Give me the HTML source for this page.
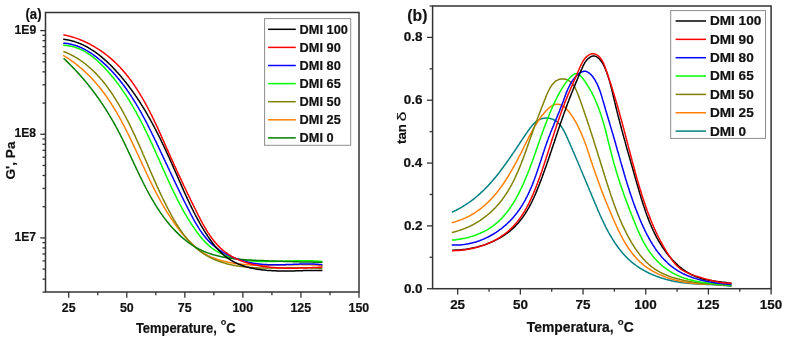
<!DOCTYPE html>
<html><head><meta charset="utf-8"><style>
html,body{margin:0;padding:0;background:#fff;}
svg{display:block;will-change:transform;}
text{font-family:"Liberation Sans", sans-serif;fill:#111;}
</style></head><body>
<svg width="788" height="342" viewBox="0 0 788 342">
<rect width="788" height="342" fill="#fff"/>
<g>
<path d="M63.2,55.4 L63.9,55.8 L64.6,56.2 L65.2,56.6 L65.9,57.0 L66.5,57.4 L67.2,57.8 L67.8,58.2 L68.5,58.7 L69.1,59.1 L69.7,59.5 L70.4,60.0 L71.0,60.4 L71.6,60.8 L72.2,61.3 L72.9,61.7 L73.5,62.2 L74.1,62.6 L74.7,63.1 L75.3,63.5 L75.9,64.0 L76.5,64.4 L77.1,64.9 L77.6,65.4 L78.2,65.8 L78.8,66.3 L79.4,66.8 L79.9,67.3 L80.5,67.7 L81.1,68.2 L81.6,68.7 L82.2,69.2 L82.7,69.7 L83.3,70.2 L83.8,70.7 L84.4,71.2 L84.9,71.7 L85.5,72.2 L86.0,72.7 L86.5,73.2 L87.1,73.7 L87.6,74.2 L88.1,74.7 L88.6,75.2 L89.2,75.7 L89.7,76.3 L90.2,76.8 L90.7,77.3 L91.2,77.8 L91.7,78.4 L92.2,78.9 L92.7,79.4 L93.2,80.0 L93.7,80.5 L94.1,81.0 L94.6,81.6 L95.1,82.1 L95.6,82.7 L96.1,83.2 L96.5,83.8 L97.0,84.3 L97.5,84.9 L97.9,85.4 L98.4,86.0 L98.9,86.5 L99.3,87.1 L99.8,87.7 L100.2,88.2 L100.7,88.8 L101.1,89.4 L101.6,89.9 L102.0,90.5 L102.5,91.1 L102.9,91.7 L103.3,92.2 L103.8,92.8 L104.2,93.4 L104.6,94.0 L105.0,94.6 L105.5,95.2 L105.9,95.8 L106.3,96.3 L106.7,96.9 L107.1,97.5 L107.5,98.1 L108.0,98.7 L108.4,99.3 L108.8,99.9 L109.2,100.5 L109.6,101.1 L110.0,101.7 L110.4,102.3 L110.8,103.0 L111.2,103.6 L111.6,104.2 L111.9,104.8 L112.3,105.4 L112.7,106.0 L113.1,106.6 L113.5,107.3 L113.9,107.9 L114.2,108.5 L114.6,109.1 L115.0,109.7 L115.4,110.4 L115.7,111.0 L116.1,111.6 L116.5,112.2 L116.9,112.9 L117.2,113.5 L117.6,114.1 L117.9,114.8 L118.3,115.4 L118.7,116.0 L119.0,116.7 L119.4,117.3 L119.7,118.0 L120.1,118.6 L120.4,119.2 L120.8,119.9 L121.1,120.5 L121.5,121.2 L121.8,121.8 L122.2,122.5 L122.5,123.1 L122.9,123.8 L123.2,124.4 L123.6,125.1 L123.9,125.7 L124.2,126.4 L124.6,127.0 L124.9,127.7 L125.2,128.3 L125.6,129.0 L125.9,129.6 L126.2,130.3 L126.6,131.0 L126.9,131.6 L127.2,132.3 L127.6,132.9 L127.9,133.6 L128.2,134.3 L128.6,134.9 L128.9,135.6 L129.2,136.2 L129.5,136.9 L129.8,137.6 L130.2,138.2 L130.5,138.9 L130.8,139.6 L131.1,140.2 L131.5,140.9 L131.8,141.6 L132.1,142.2 L132.4,142.9 L132.7,143.6 L133.0,144.2 L133.4,144.9 L133.7,145.6 L134.0,146.3 L134.3,146.9 L134.6,147.6 L134.9,148.3 L135.3,148.9 L135.6,149.6 L135.9,150.3 L136.2,151.0 L136.5,151.6 L136.8,152.3 L137.1,153.0 L137.4,153.6 L137.8,154.3 L138.1,155.0 L138.4,155.7 L138.7,156.3 L139.0,157.0 L139.3,157.7 L139.6,158.4 L139.9,159.0 L140.2,159.7 L140.6,160.4 L140.9,161.1 L141.2,161.7 L141.5,162.4 L141.8,163.1 L142.1,163.8 L142.4,164.4 L142.7,165.1 L143.1,165.8 L143.4,166.5 L143.7,167.1 L144.0,167.8 L144.3,168.5 L144.6,169.2 L144.9,169.8 L145.2,170.5 L145.6,171.2 L145.9,171.8 L146.2,172.5 L146.5,173.2 L146.8,173.9 L147.1,174.5 L147.5,175.2 L147.8,175.9 L148.1,176.5 L148.4,177.2 L148.7,177.9 L149.1,178.6 L149.4,179.2 L149.7,179.9 L150.0,180.6 L150.4,181.2 L150.7,181.9 L151.0,182.6 L151.3,183.2 L151.7,183.9 L152.0,184.6 L152.3,185.2 L152.6,185.9 L153.0,186.5 L153.3,187.2 L153.6,187.9 L154.0,188.5 L154.3,189.2 L154.6,189.8 L155.0,190.5 L155.3,191.2 L155.7,191.8 L156.0,192.5 L156.3,193.1 L156.7,193.8 L157.0,194.4 L157.4,195.1 L157.7,195.7 L158.1,196.4 L158.4,197.0 L158.8,197.7 L159.1,198.3 L159.5,199.0 L159.8,199.6 L160.2,200.3 L160.5,200.9 L160.9,201.6 L161.2,202.2 L161.6,202.9 L162.0,203.5 L162.3,204.1 L162.7,204.8 L163.1,205.4 L163.4,206.0 L163.8,206.7 L164.2,207.3 L164.5,207.9 L164.9,208.6 L165.3,209.2 L165.7,209.8 L166.1,210.5 L166.4,211.1 L166.8,211.7 L167.2,212.3 L167.6,213.0 L168.0,213.6 L168.4,214.2 L168.8,214.8 L169.2,215.4 L169.6,216.0 L170.0,216.7 L170.4,217.3 L170.8,217.9 L171.2,218.5 L171.6,219.1 L172.0,219.7 L172.4,220.3 L172.8,220.9 L173.2,221.5 L173.6,222.1 L174.1,222.7 L174.5,223.3 L174.9,223.9 L175.3,224.5 L175.8,225.1 L176.2,225.7 L176.6,226.3 L177.1,226.9 L177.5,227.5 L178.0,228.0 L178.4,228.6 L178.8,229.2 L179.3,229.8 L179.7,230.4 L180.2,230.9 L180.7,231.5 L181.1,232.1 L181.6,232.6 L182.0,233.2 L182.5,233.8 L183.0,234.3 L183.5,234.9 L183.9,235.4 L184.4,236.0 L184.9,236.6 L185.4,237.1 L185.9,237.6 L186.4,238.2 L186.8,238.7 L187.3,239.3 L187.8,239.8 L188.3,240.3 L188.9,240.8 L189.4,241.4 L189.9,241.9 L190.4,242.4 L190.9,242.9 L191.4,243.4 L192.0,243.9 L192.5,244.4 L193.0,244.9 L193.6,245.4 L194.1,245.8 L194.6,246.3 L195.2,246.8 L195.7,247.2 L196.3,247.7 L196.9,248.2 L197.4,248.6 L198.0,249.0 L198.6,249.5 L199.1,249.9 L199.7,250.3 L200.3,250.8 L200.9,251.2 L201.5,251.6 L202.1,252.0 L202.7,252.4 L203.3,252.8 L203.9,253.1 L204.5,253.5 L205.1,253.9 L205.7,254.2 L206.3,254.6 L207.0,254.9 L207.6,255.3 L208.2,255.6 L208.9,255.9 L209.5,256.3 L210.2,256.6 L210.8,256.9 L211.5,257.2 L212.2,257.4 L212.8,257.7 L213.5,258.0 L214.2,258.3 L214.9,258.5 L215.5,258.8 L216.2,259.0 L216.9,259.3 L217.6,259.5 L218.3,259.7 L219.0,259.9 L219.7,260.1 L220.4,260.3 L221.1,260.5 L221.8,260.7 L222.5,260.9 L223.3,261.1 L224.0,261.3 L224.7,261.5 L225.4,261.6 L226.1,261.8 L226.8,262.0 L227.6,262.1 L228.3,262.3 L229.0,262.4 L229.7,262.5 L230.5,262.7 L231.2,262.8 L231.9,262.9 L232.7,263.1 L233.4,263.2 L234.1,263.3 L234.8,263.4 L235.6,263.5 L236.3,263.6 L237.0,263.7 L237.8,263.8 L238.5,263.9 L239.2,264.0 L240.0,264.1 L240.7,264.1 L241.5,264.2 L242.2,264.3 L242.9,264.4 L243.7,264.4 L244.4,264.5 L245.1,264.6 L245.9,264.6 L246.6,264.7 L247.4,264.7 L248.1,264.8 L248.8,264.8 L249.6,264.9 L250.3,264.9 L251.1,264.9 L251.8,265.0 L252.5,265.0 L253.3,265.0 L254.0,265.1 L254.8,265.1 L255.5,265.1 L256.2,265.1 L257.0,265.1 L257.7,265.2 L258.5,265.2 L259.2,265.2 L260.0,265.2 L260.7,265.2 L261.5,265.2 L262.2,265.2 L262.9,265.2 L263.7,265.2 L264.4,265.2 L265.2,265.2 L265.9,265.2 L266.7,265.2 L267.4,265.2 L268.2,265.2 L268.9,265.2 L269.6,265.2 L270.4,265.2 L271.1,265.2 L271.9,265.2 L272.6,265.2 L273.4,265.1 L274.1,265.1 L274.9,265.1 L275.6,265.1 L276.4,265.1 L277.1,265.1 L277.8,265.0 L278.6,265.0 L279.3,265.0 L280.1,265.0 L280.8,265.0 L281.6,265.0 L282.3,264.9 L283.0,264.9 L283.8,264.9 L284.5,264.9 L285.3,264.9 L286.0,264.9 L286.8,264.8 L287.5,264.8 L288.2,264.8 L289.0,264.8 L289.7,264.8 L290.5,264.8 L291.2,264.7 L291.9,264.7 L292.7,264.7 L293.4,264.7 L294.1,264.7 L294.9,264.7 L295.6,264.7 L296.4,264.7 L297.1,264.7 L297.8,264.7 L298.6,264.7 L299.3,264.6 L300.0,264.6 L300.8,264.6 L301.5,264.6 L302.2,264.7 L303.0,264.7 L303.7,264.7 L304.4,264.7 L305.1,264.7 L305.9,264.7 L306.6,264.7 L307.3,264.7 L308.1,264.7 L308.8,264.8 L309.5,264.8 L310.2,264.8 L311.0,264.8 L311.7,264.9 L312.4,264.9 L313.1,264.9 L313.8,265.0 L314.6,265.0 L315.3,265.1 L316.0,265.1 L316.7,265.1 L317.4,265.2 L318.1,265.2 L318.9,265.3 L319.6,265.4 L320.3,265.4 L321.0,265.5 L321.7,265.6 L322.4,265.6" fill="none" stroke="#ff8000" stroke-width="1.5" stroke-linejoin="round"/>
<path d="M63.4,51.4 L64.1,51.7 L64.8,52.0 L65.5,52.3 L66.2,52.5 L66.9,52.8 L67.6,53.2 L68.3,53.5 L69.0,53.8 L69.6,54.1 L70.3,54.4 L71.0,54.8 L71.7,55.1 L72.3,55.5 L73.0,55.8 L73.6,56.2 L74.3,56.5 L74.9,56.9 L75.6,57.3 L76.2,57.7 L76.9,58.0 L77.5,58.4 L78.1,58.8 L78.7,59.2 L79.4,59.6 L80.0,60.0 L80.6,60.5 L81.2,60.9 L81.8,61.3 L82.4,61.7 L83.0,62.2 L83.6,62.6 L84.2,63.1 L84.8,63.5 L85.4,64.0 L85.9,64.4 L86.5,64.9 L87.1,65.4 L87.7,65.8 L88.2,66.3 L88.8,66.8 L89.3,67.3 L89.9,67.8 L90.5,68.2 L91.0,68.7 L91.5,69.2 L92.1,69.8 L92.6,70.3 L93.2,70.8 L93.7,71.3 L94.2,71.8 L94.8,72.3 L95.3,72.9 L95.8,73.4 L96.3,73.9 L96.8,74.5 L97.3,75.0 L97.8,75.6 L98.3,76.1 L98.9,76.7 L99.3,77.2 L99.8,77.8 L100.3,78.3 L100.8,78.9 L101.3,79.5 L101.8,80.0 L102.3,80.6 L102.8,81.2 L103.2,81.8 L103.7,82.4 L104.2,82.9 L104.6,83.5 L105.1,84.1 L105.6,84.7 L106.0,85.3 L106.5,85.9 L106.9,86.5 L107.4,87.1 L107.8,87.7 L108.3,88.3 L108.7,88.9 L109.1,89.6 L109.6,90.2 L110.0,90.8 L110.5,91.4 L110.9,92.0 L111.3,92.7 L111.7,93.3 L112.2,93.9 L112.6,94.5 L113.0,95.2 L113.4,95.8 L113.8,96.4 L114.2,97.1 L114.6,97.7 L115.0,98.4 L115.4,99.0 L115.8,99.6 L116.2,100.3 L116.6,100.9 L117.0,101.6 L117.4,102.2 L117.8,102.9 L118.2,103.5 L118.6,104.2 L119.0,104.8 L119.4,105.5 L119.7,106.1 L120.1,106.8 L120.5,107.4 L120.9,108.1 L121.2,108.7 L121.6,109.4 L122.0,110.1 L122.3,110.7 L122.7,111.4 L123.1,112.0 L123.4,112.7 L123.8,113.4 L124.1,114.0 L124.5,114.7 L124.9,115.3 L125.2,116.0 L125.6,116.7 L125.9,117.3 L126.2,118.0 L126.6,118.7 L126.9,119.3 L127.3,120.0 L127.6,120.7 L128.0,121.3 L128.3,122.0 L128.6,122.7 L129.0,123.3 L129.3,124.0 L129.6,124.7 L130.0,125.3 L130.3,126.0 L130.6,126.7 L130.9,127.4 L131.3,128.0 L131.6,128.7 L131.9,129.4 L132.2,130.0 L132.6,130.7 L132.9,131.4 L133.2,132.1 L133.5,132.7 L133.8,133.4 L134.1,134.1 L134.5,134.8 L134.8,135.4 L135.1,136.1 L135.4,136.8 L135.7,137.5 L136.0,138.1 L136.3,138.8 L136.6,139.5 L136.9,140.2 L137.2,140.9 L137.6,141.5 L137.9,142.2 L138.2,142.9 L138.5,143.6 L138.8,144.2 L139.1,144.9 L139.4,145.6 L139.7,146.3 L140.0,147.0 L140.3,147.6 L140.6,148.3 L140.9,149.0 L141.2,149.7 L141.5,150.4 L141.8,151.0 L142.1,151.7 L142.4,152.4 L142.7,153.1 L142.9,153.8 L143.2,154.5 L143.5,155.1 L143.8,155.8 L144.1,156.5 L144.4,157.2 L144.7,157.9 L145.0,158.5 L145.3,159.2 L145.6,159.9 L145.9,160.6 L146.2,161.3 L146.5,162.0 L146.8,162.6 L147.1,163.3 L147.4,164.0 L147.7,164.7 L147.9,165.4 L148.2,166.1 L148.5,166.8 L148.8,167.4 L149.1,168.1 L149.4,168.8 L149.7,169.5 L150.0,170.2 L150.3,170.9 L150.6,171.5 L150.9,172.2 L151.2,172.9 L151.5,173.6 L151.8,174.3 L152.1,175.0 L152.4,175.6 L152.7,176.3 L153.0,177.0 L153.3,177.7 L153.6,178.4 L153.9,179.1 L154.2,179.7 L154.5,180.4 L154.8,181.1 L155.1,181.8 L155.4,182.5 L155.7,183.2 L156.0,183.8 L156.3,184.5 L156.6,185.2 L156.9,185.9 L157.2,186.6 L157.5,187.2 L157.9,187.9 L158.2,188.6 L158.5,189.3 L158.8,190.0 L159.1,190.7 L159.4,191.3 L159.7,192.0 L160.1,192.7 L160.4,193.4 L160.7,194.1 L161.0,194.7 L161.3,195.4 L161.7,196.1 L162.0,196.8 L162.3,197.5 L162.6,198.1 L163.0,198.8 L163.3,199.5 L163.6,200.2 L164.0,200.8 L164.3,201.5 L164.6,202.2 L165.0,202.9 L165.3,203.5 L165.6,204.2 L166.0,204.9 L166.3,205.6 L166.7,206.3 L167.0,206.9 L167.4,207.6 L167.7,208.3 L168.1,208.9 L168.4,209.6 L168.8,210.3 L169.1,211.0 L169.5,211.6 L169.8,212.3 L170.2,213.0 L170.6,213.6 L170.9,214.3 L171.3,215.0 L171.7,215.7 L172.0,216.3 L172.4,217.0 L172.8,217.6 L173.1,218.3 L173.5,219.0 L173.9,219.6 L174.3,220.3 L174.7,220.9 L175.1,221.6 L175.5,222.3 L175.9,222.9 L176.2,223.6 L176.6,224.2 L177.0,224.8 L177.5,225.5 L177.9,226.1 L178.3,226.8 L178.7,227.4 L179.1,228.0 L179.5,228.7 L179.9,229.3 L180.4,229.9 L180.8,230.5 L181.2,231.1 L181.7,231.8 L182.1,232.4 L182.5,233.0 L183.0,233.6 L183.4,234.2 L183.9,234.8 L184.3,235.4 L184.8,236.0 L185.2,236.5 L185.7,237.1 L186.2,237.7 L186.6,238.3 L187.1,238.8 L187.6,239.4 L188.1,240.0 L188.6,240.5 L189.1,241.1 L189.6,241.6 L190.1,242.2 L190.6,242.7 L191.1,243.2 L191.6,243.8 L192.1,244.3 L192.6,244.8 L193.1,245.3 L193.7,245.8 L194.2,246.3 L194.7,246.8 L195.3,247.3 L195.8,247.8 L196.4,248.3 L196.9,248.7 L197.5,249.2 L198.0,249.7 L198.6,250.1 L199.2,250.6 L199.7,251.0 L200.3,251.4 L200.9,251.9 L201.5,252.3 L202.1,252.7 L202.7,253.1 L203.3,253.5 L203.9,253.9 L204.5,254.3 L205.2,254.7 L205.8,255.1 L206.4,255.4 L207.0,255.8 L207.7,256.2 L208.3,256.5 L209.0,256.9 L209.6,257.2 L210.3,257.5 L210.9,257.8 L211.6,258.2 L212.2,258.5 L212.9,258.8 L213.6,259.1 L214.2,259.4 L214.9,259.7 L215.6,260.0 L216.3,260.2 L216.9,260.5 L217.6,260.8 L218.3,261.0 L219.0,261.3 L219.7,261.5 L220.4,261.8 L221.1,262.0 L221.8,262.3 L222.5,262.5 L223.2,262.7 L223.9,262.9 L224.6,263.1 L225.3,263.3 L226.0,263.5 L226.7,263.7 L227.5,263.9 L228.2,264.1 L228.9,264.3 L229.6,264.4 L230.3,264.6 L231.1,264.8 L231.8,264.9 L232.5,265.1 L233.2,265.2 L234.0,265.4 L234.7,265.5 L235.4,265.6 L236.2,265.8 L236.9,265.9 L237.6,266.0 L238.4,266.1 L239.1,266.2 L239.9,266.3 L240.6,266.4 L241.3,266.5 L242.1,266.6 L242.8,266.7 L243.6,266.8 L244.3,266.9 L245.1,267.0 L245.8,267.1 L246.6,267.1 L247.3,267.2 L248.1,267.3 L248.8,267.3 L249.6,267.4 L250.4,267.5 L251.1,267.5 L251.9,267.6 L252.6,267.6 L253.4,267.7 L254.2,267.7 L254.9,267.7 L255.7,267.8 L256.4,267.8 L257.2,267.8 L258.0,267.9 L258.7,267.9 L259.5,267.9 L260.3,268.0 L261.0,268.0 L261.8,268.0 L262.6,268.0 L263.3,268.0 L264.1,268.0 L264.9,268.0 L265.6,268.1 L266.4,268.1 L267.2,268.1 L267.9,268.1 L268.7,268.1 L269.5,268.1 L270.2,268.1 L271.0,268.1 L271.8,268.1 L272.5,268.1 L273.3,268.1 L274.1,268.1 L274.8,268.0 L275.6,268.0 L276.4,268.0 L277.1,268.0 L277.9,268.0 L278.7,268.0 L279.4,268.0 L280.2,268.0 L281.0,268.0 L281.7,267.9 L282.5,267.9 L283.3,267.9 L284.0,267.9 L284.8,267.9 L285.6,267.9 L286.3,267.9 L287.1,267.8 L287.9,267.8 L288.6,267.8 L289.4,267.8 L290.1,267.8 L290.9,267.8 L291.6,267.8 L292.4,267.8 L293.2,267.7 L293.9,267.7 L294.7,267.7 L295.4,267.7 L296.2,267.7 L296.9,267.7 L297.7,267.7 L298.4,267.7 L299.2,267.7 L299.9,267.7 L300.7,267.7 L301.4,267.7 L302.2,267.7 L302.9,267.7 L303.6,267.7 L304.4,267.7 L305.1,267.7 L305.9,267.7 L306.6,267.7 L307.3,267.8 L308.1,267.8 L308.8,267.8 L309.5,267.8 L310.2,267.8 L311.0,267.9 L311.7,267.9 L312.4,267.9 L313.1,267.9 L313.9,268.0 L314.6,268.0 L315.3,268.1 L316.0,268.1 L316.7,268.2 L317.4,268.2 L318.1,268.3 L318.8,268.3 L319.5,268.4 L320.2,268.4 L320.9,268.5 L321.6,268.6 L322.3,268.6" fill="none" stroke="#808000" stroke-width="1.5" stroke-linejoin="round"/>
<path d="M63.3,45.3 L64.1,45.3 L64.9,45.4 L65.6,45.4 L66.4,45.5 L67.1,45.6 L67.9,45.7 L68.6,45.8 L69.4,45.9 L70.1,46.0 L70.8,46.2 L71.5,46.3 L72.3,46.5 L73.0,46.7 L73.7,46.8 L74.4,47.0 L75.1,47.3 L75.8,47.5 L76.5,47.7 L77.2,48.0 L77.9,48.2 L78.5,48.5 L79.2,48.8 L79.9,49.1 L80.6,49.4 L81.2,49.7 L81.9,50.0 L82.5,50.3 L83.2,50.6 L83.8,51.0 L84.5,51.3 L85.1,51.7 L85.7,52.1 L86.4,52.5 L87.0,52.9 L87.6,53.2 L88.2,53.7 L88.9,54.1 L89.5,54.5 L90.1,54.9 L90.7,55.3 L91.3,55.8 L91.9,56.2 L92.5,56.7 L93.1,57.1 L93.6,57.6 L94.2,58.1 L94.8,58.6 L95.4,59.0 L96.0,59.5 L96.5,60.0 L97.1,60.5 L97.6,61.0 L98.2,61.5 L98.8,62.0 L99.3,62.6 L99.9,63.1 L100.4,63.6 L100.9,64.1 L101.5,64.7 L102.0,65.2 L102.6,65.7 L103.1,66.3 L103.6,66.8 L104.1,67.4 L104.7,67.9 L105.2,68.5 L105.7,69.1 L106.2,69.6 L106.7,70.2 L107.2,70.7 L107.7,71.3 L108.2,71.9 L108.7,72.4 L109.2,73.0 L109.7,73.6 L110.2,74.1 L110.7,74.7 L111.2,75.3 L111.6,75.9 L112.1,76.4 L112.6,77.0 L113.1,77.6 L113.5,78.2 L114.0,78.8 L114.5,79.4 L114.9,79.9 L115.4,80.5 L115.9,81.1 L116.3,81.7 L116.8,82.3 L117.2,82.9 L117.7,83.5 L118.1,84.1 L118.6,84.7 L119.0,85.3 L119.4,85.9 L119.9,86.5 L120.3,87.1 L120.8,87.7 L121.2,88.3 L121.6,88.9 L122.0,89.5 L122.5,90.1 L122.9,90.8 L123.3,91.4 L123.7,92.0 L124.1,92.6 L124.6,93.2 L125.0,93.8 L125.4,94.5 L125.8,95.1 L126.2,95.7 L126.6,96.3 L127.0,96.9 L127.4,97.6 L127.8,98.2 L128.2,98.8 L128.6,99.5 L129.0,100.1 L129.4,100.7 L129.8,101.4 L130.1,102.0 L130.5,102.6 L130.9,103.3 L131.3,103.9 L131.7,104.5 L132.1,105.2 L132.4,105.8 L132.8,106.4 L133.2,107.1 L133.6,107.7 L133.9,108.4 L134.3,109.0 L134.7,109.7 L135.0,110.3 L135.4,111.0 L135.8,111.6 L136.1,112.3 L136.5,112.9 L136.8,113.6 L137.2,114.2 L137.5,114.9 L137.9,115.5 L138.2,116.2 L138.6,116.8 L139.0,117.5 L139.3,118.1 L139.6,118.8 L140.0,119.5 L140.3,120.1 L140.7,120.8 L141.0,121.4 L141.4,122.1 L141.7,122.8 L142.0,123.4 L142.4,124.1 L142.7,124.8 L143.1,125.4 L143.4,126.1 L143.7,126.8 L144.1,127.4 L144.4,128.1 L144.7,128.8 L145.0,129.4 L145.4,130.1 L145.7,130.8 L146.0,131.4 L146.4,132.1 L146.7,132.8 L147.0,133.5 L147.3,134.1 L147.6,134.8 L148.0,135.5 L148.3,136.2 L148.6,136.8 L148.9,137.5 L149.2,138.2 L149.6,138.9 L149.9,139.5 L150.2,140.2 L150.5,140.9 L150.8,141.6 L151.1,142.3 L151.5,142.9 L151.8,143.6 L152.1,144.3 L152.4,145.0 L152.7,145.7 L153.0,146.3 L153.3,147.0 L153.6,147.7 L153.9,148.4 L154.3,149.1 L154.6,149.7 L154.9,150.4 L155.2,151.1 L155.5,151.8 L155.8,152.5 L156.1,153.2 L156.4,153.9 L156.7,154.5 L157.0,155.2 L157.3,155.9 L157.6,156.6 L157.9,157.3 L158.2,158.0 L158.6,158.6 L158.9,159.3 L159.2,160.0 L159.5,160.7 L159.8,161.4 L160.1,162.1 L160.4,162.8 L160.7,163.4 L161.0,164.1 L161.3,164.8 L161.6,165.5 L161.9,166.2 L162.2,166.9 L162.5,167.6 L162.8,168.2 L163.1,168.9 L163.4,169.6 L163.7,170.3 L164.0,171.0 L164.4,171.7 L164.7,172.4 L165.0,173.1 L165.3,173.7 L165.6,174.4 L165.9,175.1 L166.2,175.8 L166.5,176.5 L166.8,177.2 L167.1,177.8 L167.4,178.5 L167.7,179.2 L168.1,179.9 L168.4,180.6 L168.7,181.3 L169.0,181.9 L169.3,182.6 L169.6,183.3 L169.9,184.0 L170.3,184.7 L170.6,185.4 L170.9,186.0 L171.2,186.7 L171.5,187.4 L171.8,188.1 L172.2,188.8 L172.5,189.4 L172.8,190.1 L173.1,190.8 L173.5,191.5 L173.8,192.1 L174.1,192.8 L174.4,193.5 L174.8,194.2 L175.1,194.8 L175.4,195.5 L175.8,196.2 L176.1,196.9 L176.4,197.5 L176.8,198.2 L177.1,198.9 L177.4,199.5 L177.8,200.2 L178.1,200.9 L178.5,201.5 L178.8,202.2 L179.2,202.9 L179.5,203.5 L179.9,204.2 L180.2,204.9 L180.6,205.5 L180.9,206.2 L181.3,206.9 L181.6,207.5 L182.0,208.2 L182.3,208.8 L182.7,209.5 L183.1,210.1 L183.4,210.8 L183.8,211.4 L184.2,212.1 L184.5,212.8 L184.9,213.4 L185.3,214.1 L185.7,214.7 L186.1,215.3 L186.4,216.0 L186.8,216.6 L187.2,217.3 L187.6,217.9 L188.0,218.6 L188.4,219.2 L188.8,219.8 L189.2,220.5 L189.6,221.1 L190.0,221.8 L190.4,222.4 L190.8,223.0 L191.2,223.7 L191.6,224.3 L192.0,224.9 L192.4,225.5 L192.8,226.2 L193.3,226.8 L193.7,227.4 L194.1,228.0 L194.5,228.7 L195.0,229.3 L195.4,229.9 L195.8,230.5 L196.3,231.1 L196.7,231.7 L197.2,232.4 L197.6,233.0 L198.0,233.6 L198.5,234.2 L199.0,234.8 L199.4,235.4 L199.9,236.0 L200.3,236.5 L200.8,237.1 L201.3,237.7 L201.8,238.3 L202.3,238.9 L202.7,239.4 L203.2,240.0 L203.7,240.5 L204.2,241.1 L204.7,241.6 L205.2,242.2 L205.8,242.7 L206.3,243.2 L206.8,243.7 L207.3,244.2 L207.9,244.7 L208.4,245.2 L209.0,245.7 L209.5,246.2 L210.1,246.6 L210.6,247.1 L211.2,247.5 L211.8,248.0 L212.3,248.4 L212.9,248.8 L213.5,249.2 L214.1,249.7 L214.7,250.0 L215.3,250.4 L215.9,250.8 L216.6,251.2 L217.2,251.5 L217.8,251.9 L218.4,252.2 L219.1,252.6 L219.7,252.9 L220.3,253.2 L221.0,253.5 L221.7,253.8 L222.3,254.1 L223.0,254.4 L223.6,254.7 L224.3,255.0 L225.0,255.3 L225.7,255.5 L226.3,255.8 L227.0,256.0 L227.7,256.3 L228.4,256.5 L229.1,256.7 L229.8,257.0 L230.5,257.2 L231.2,257.4 L231.9,257.6 L232.6,257.8 L233.3,258.0 L234.1,258.1 L234.8,258.3 L235.5,258.5 L236.2,258.7 L236.9,258.8 L237.7,259.0 L238.4,259.1 L239.1,259.3 L239.9,259.4 L240.6,259.5 L241.4,259.7 L242.1,259.8 L242.8,259.9 L243.6,260.0 L244.3,260.1 L245.1,260.2 L245.8,260.3 L246.6,260.4 L247.3,260.5 L248.1,260.6 L248.9,260.7 L249.6,260.8 L250.4,260.8 L251.1,260.9 L251.9,261.0 L252.7,261.0 L253.4,261.1 L254.2,261.1 L254.9,261.2 L255.7,261.2 L256.5,261.3 L257.2,261.3 L258.0,261.3 L258.8,261.4 L259.5,261.4 L260.3,261.4 L261.0,261.4 L261.8,261.5 L262.6,261.5 L263.3,261.5 L264.1,261.5 L264.9,261.5 L265.6,261.5 L266.4,261.5 L267.1,261.5 L267.9,261.5 L268.7,261.5 L269.4,261.5 L270.2,261.5 L270.9,261.5 L271.7,261.5 L272.5,261.5 L273.2,261.5 L274.0,261.5 L274.7,261.4 L275.5,261.4 L276.3,261.4 L277.0,261.4 L277.8,261.4 L278.5,261.3 L279.3,261.3 L280.0,261.3 L280.8,261.3 L281.5,261.3 L282.3,261.2 L283.0,261.2 L283.8,261.2 L284.6,261.2 L285.3,261.1 L286.1,261.1 L286.8,261.1 L287.6,261.0 L288.3,261.0 L289.1,261.0 L289.8,261.0 L290.6,260.9 L291.3,260.9 L292.1,260.9 L292.8,260.9 L293.6,260.9 L294.3,260.8 L295.1,260.8 L295.8,260.8 L296.6,260.8 L297.3,260.8 L298.0,260.7 L298.8,260.7 L299.5,260.7 L300.3,260.7 L301.0,260.7 L301.8,260.7 L302.5,260.7 L303.3,260.7 L304.0,260.7 L304.7,260.7 L305.5,260.7 L306.2,260.7 L307.0,260.7 L307.7,260.7 L308.5,260.7 L309.2,260.7 L309.9,260.7 L310.7,260.8 L311.4,260.8 L312.2,260.8 L312.9,260.8 L313.6,260.9 L314.4,260.9 L315.1,260.9 L315.8,261.0 L316.6,261.0 L317.3,261.1 L318.1,261.1 L318.8,261.2 L319.5,261.3 L320.3,261.3 L321.0,261.4 L321.7,261.5 L322.5,261.5" fill="none" stroke="#00ff00" stroke-width="1.5" stroke-linejoin="round"/>
<path d="M63.6,58.3 L64.1,58.8 L64.7,59.3 L65.2,59.8 L65.7,60.3 L66.3,60.9 L66.8,61.4 L67.3,61.9 L67.8,62.4 L68.4,62.9 L68.9,63.4 L69.4,63.9 L69.9,64.4 L70.4,65.0 L71.0,65.5 L71.5,66.0 L72.0,66.5 L72.5,67.1 L73.0,67.6 L73.5,68.1 L74.0,68.6 L74.5,69.2 L75.0,69.7 L75.5,70.2 L76.0,70.7 L76.5,71.3 L77.0,71.8 L77.5,72.3 L78.0,72.9 L78.5,73.4 L79.0,73.9 L79.4,74.5 L79.9,75.0 L80.4,75.6 L80.9,76.1 L81.4,76.7 L81.8,77.2 L82.3,77.7 L82.8,78.3 L83.2,78.8 L83.7,79.4 L84.2,79.9 L84.6,80.5 L85.1,81.0 L85.6,81.6 L86.0,82.1 L86.5,82.7 L86.9,83.3 L87.4,83.8 L87.9,84.4 L88.3,84.9 L88.8,85.5 L89.2,86.1 L89.7,86.6 L90.1,87.2 L90.5,87.8 L91.0,88.3 L91.4,88.9 L91.9,89.5 L92.3,90.0 L92.7,90.6 L93.2,91.2 L93.6,91.7 L94.0,92.3 L94.5,92.9 L94.9,93.5 L95.3,94.0 L95.7,94.6 L96.2,95.2 L96.6,95.8 L97.0,96.4 L97.4,97.0 L97.8,97.5 L98.3,98.1 L98.7,98.7 L99.1,99.3 L99.5,99.9 L99.9,100.5 L100.3,101.1 L100.7,101.7 L101.1,102.3 L101.5,102.9 L101.9,103.4 L102.3,104.0 L102.7,104.6 L103.1,105.2 L103.5,105.8 L103.9,106.4 L104.3,107.0 L104.7,107.6 L105.1,108.3 L105.5,108.9 L105.8,109.5 L106.2,110.1 L106.6,110.7 L107.0,111.3 L107.4,111.9 L107.8,112.5 L108.1,113.1 L108.5,113.7 L108.9,114.4 L109.3,115.0 L109.6,115.6 L110.0,116.2 L110.4,116.8 L110.7,117.5 L111.1,118.1 L111.5,118.7 L111.8,119.3 L112.2,119.9 L112.6,120.6 L112.9,121.2 L113.3,121.8 L113.6,122.5 L114.0,123.1 L114.3,123.7 L114.7,124.4 L115.0,125.0 L115.4,125.6 L115.7,126.3 L116.1,126.9 L116.4,127.5 L116.8,128.2 L117.1,128.8 L117.5,129.5 L117.8,130.1 L118.1,130.7 L118.5,131.4 L118.8,132.0 L119.2,132.7 L119.5,133.3 L119.8,134.0 L120.2,134.6 L120.5,135.3 L120.8,135.9 L121.2,136.6 L121.5,137.2 L121.8,137.9 L122.1,138.5 L122.5,139.2 L122.8,139.9 L123.1,140.5 L123.4,141.2 L123.8,141.8 L124.1,142.5 L124.4,143.2 L124.7,143.8 L125.0,144.5 L125.4,145.1 L125.7,145.8 L126.0,146.5 L126.3,147.1 L126.6,147.8 L126.9,148.4 L127.3,149.1 L127.6,149.8 L127.9,150.4 L128.2,151.1 L128.5,151.8 L128.8,152.4 L129.1,153.1 L129.4,153.8 L129.8,154.4 L130.1,155.1 L130.4,155.8 L130.7,156.4 L131.0,157.1 L131.3,157.8 L131.6,158.4 L131.9,159.1 L132.3,159.8 L132.6,160.4 L132.9,161.1 L133.2,161.8 L133.5,162.4 L133.8,163.1 L134.1,163.8 L134.4,164.4 L134.8,165.1 L135.1,165.8 L135.4,166.4 L135.7,167.1 L136.0,167.8 L136.3,168.4 L136.6,169.1 L136.9,169.8 L137.3,170.4 L137.6,171.1 L137.9,171.8 L138.2,172.4 L138.5,173.1 L138.8,173.8 L139.2,174.4 L139.5,175.1 L139.8,175.8 L140.1,176.4 L140.4,177.1 L140.8,177.7 L141.1,178.4 L141.4,179.1 L141.7,179.7 L142.1,180.4 L142.4,181.0 L142.7,181.7 L143.0,182.3 L143.4,183.0 L143.7,183.6 L144.0,184.3 L144.4,185.0 L144.7,185.6 L145.0,186.3 L145.4,186.9 L145.7,187.6 L146.0,188.2 L146.4,188.8 L146.7,189.5 L147.0,190.1 L147.4,190.8 L147.7,191.4 L148.1,192.1 L148.4,192.7 L148.8,193.3 L149.1,194.0 L149.5,194.6 L149.8,195.3 L150.2,195.9 L150.5,196.5 L150.9,197.2 L151.3,197.8 L151.6,198.4 L152.0,199.1 L152.3,199.7 L152.7,200.3 L153.1,200.9 L153.4,201.5 L153.8,202.2 L154.2,202.8 L154.6,203.4 L154.9,204.0 L155.3,204.6 L155.7,205.3 L156.1,205.9 L156.5,206.5 L156.8,207.1 L157.2,207.7 L157.6,208.3 L158.0,208.9 L158.4,209.5 L158.8,210.1 L159.2,210.7 L159.6,211.3 L160.0,211.9 L160.4,212.5 L160.8,213.1 L161.2,213.7 L161.6,214.3 L162.1,214.8 L162.5,215.4 L162.9,216.0 L163.3,216.6 L163.7,217.2 L164.2,217.7 L164.6,218.3 L165.0,218.9 L165.5,219.5 L165.9,220.0 L166.4,220.6 L166.8,221.2 L167.2,221.7 L167.7,222.3 L168.1,222.8 L168.6,223.4 L169.1,223.9 L169.5,224.5 L170.0,225.0 L170.4,225.6 L170.9,226.1 L171.4,226.7 L171.9,227.2 L172.3,227.7 L172.8,228.3 L173.3,228.8 L173.8,229.3 L174.3,229.8 L174.8,230.4 L175.3,230.9 L175.8,231.4 L176.3,231.9 L176.8,232.4 L177.3,232.9 L177.8,233.4 L178.3,233.9 L178.9,234.4 L179.4,234.9 L179.9,235.4 L180.4,235.9 L181.0,236.4 L181.5,236.9 L182.0,237.4 L182.6,237.8 L183.1,238.3 L183.7,238.8 L184.2,239.2 L184.8,239.7 L185.4,240.1 L185.9,240.6 L186.5,241.0 L187.1,241.5 L187.6,241.9 L188.2,242.3 L188.8,242.8 L189.4,243.2 L189.9,243.6 L190.5,244.0 L191.1,244.4 L191.7,244.8 L192.3,245.2 L192.9,245.6 L193.5,246.0 L194.1,246.4 L194.7,246.7 L195.4,247.1 L196.0,247.4 L196.6,247.8 L197.2,248.2 L197.9,248.5 L198.5,248.8 L199.1,249.2 L199.8,249.5 L200.4,249.8 L201.1,250.1 L201.7,250.4 L202.4,250.7 L203.0,251.0 L203.7,251.3 L204.3,251.6 L205.0,251.8 L205.7,252.1 L206.3,252.4 L207.0,252.6 L207.7,252.9 L208.3,253.1 L209.0,253.3 L209.7,253.6 L210.4,253.8 L211.1,254.0 L211.8,254.2 L212.5,254.5 L213.2,254.7 L213.9,254.9 L214.5,255.1 L215.2,255.2 L215.9,255.4 L216.7,255.6 L217.4,255.8 L218.1,256.0 L218.8,256.1 L219.5,256.3 L220.2,256.5 L220.9,256.6 L221.6,256.8 L222.3,256.9 L223.0,257.0 L223.8,257.2 L224.5,257.3 L225.2,257.4 L225.9,257.6 L226.6,257.7 L227.4,257.8 L228.1,257.9 L228.8,258.0 L229.5,258.1 L230.2,258.2 L231.0,258.3 L231.7,258.4 L232.4,258.5 L233.2,258.6 L233.9,258.7 L234.6,258.8 L235.3,258.9 L236.1,259.0 L236.8,259.0 L237.5,259.1 L238.3,259.2 L239.0,259.3 L239.7,259.3 L240.5,259.4 L241.2,259.4 L241.9,259.5 L242.7,259.6 L243.4,259.6 L244.1,259.7 L244.9,259.7 L245.6,259.8 L246.3,259.8 L247.1,259.9 L247.8,259.9 L248.5,260.0 L249.3,260.0 L250.0,260.0 L250.8,260.1 L251.5,260.1 L252.2,260.2 L253.0,260.2 L253.7,260.2 L254.4,260.3 L255.2,260.3 L255.9,260.3 L256.6,260.4 L257.4,260.4 L258.1,260.4 L258.8,260.5 L259.6,260.5 L260.3,260.5 L261.0,260.5 L261.8,260.6 L262.5,260.6 L263.2,260.6 L263.9,260.7 L264.7,260.7 L265.4,260.7 L266.1,260.7 L266.9,260.8 L267.6,260.8 L268.3,260.8 L269.0,260.9 L269.8,260.9 L270.5,260.9 L271.2,260.9 L271.9,261.0 L272.7,261.0 L273.4,261.0 L274.1,261.0 L274.8,261.1 L275.5,261.1 L276.3,261.1 L277.0,261.1 L277.7,261.2 L278.4,261.2 L279.1,261.2 L279.9,261.2 L280.6,261.3 L281.3,261.3 L282.0,261.3 L282.7,261.3 L283.5,261.4 L284.2,261.4 L284.9,261.4 L285.6,261.4 L286.3,261.5 L287.1,261.5 L287.8,261.5 L288.5,261.5 L289.2,261.6 L289.9,261.6 L290.7,261.6 L291.4,261.6 L292.1,261.6 L292.8,261.7 L293.5,261.7 L294.2,261.7 L295.0,261.7 L295.7,261.8 L296.4,261.8 L297.1,261.8 L297.8,261.8 L298.6,261.8 L299.3,261.9 L300.0,261.9 L300.7,261.9 L301.4,261.9 L302.2,261.9 L302.9,261.9 L303.6,262.0 L304.3,262.0 L305.0,262.0 L305.8,262.0 L306.5,262.0 L307.2,262.0 L307.9,262.1 L308.6,262.1 L309.4,262.1 L310.1,262.1 L310.8,262.1 L311.5,262.1 L312.3,262.1 L313.0,262.2 L313.7,262.2 L314.4,262.2 L315.2,262.2 L315.9,262.2 L316.6,262.2 L317.3,262.2 L318.1,262.2 L318.8,262.2 L319.5,262.2 L320.3,262.3 L321.0,262.3 L321.7,262.3 L322.5,262.3" fill="none" stroke="#008000" stroke-width="1.5" stroke-linejoin="round"/>
<path d="M63.3,43.2 L64.1,43.2 L64.9,43.3 L65.6,43.3 L66.4,43.4 L67.1,43.5 L67.8,43.6 L68.6,43.8 L69.3,43.9 L70.1,44.0 L70.8,44.2 L71.5,44.3 L72.2,44.5 L72.9,44.7 L73.7,44.9 L74.4,45.1 L75.1,45.3 L75.8,45.6 L76.5,45.8 L77.2,46.0 L77.9,46.3 L78.6,46.6 L79.2,46.8 L79.9,47.1 L80.6,47.4 L81.3,47.7 L82.0,48.0 L82.6,48.4 L83.3,48.7 L83.9,49.0 L84.6,49.4 L85.3,49.7 L85.9,50.1 L86.6,50.4 L87.2,50.8 L87.8,51.2 L88.5,51.6 L89.1,52.0 L89.8,52.4 L90.4,52.8 L91.0,53.2 L91.6,53.6 L92.2,54.0 L92.9,54.5 L93.5,54.9 L94.1,55.3 L94.7,55.8 L95.3,56.2 L95.9,56.7 L96.5,57.1 L97.1,57.6 L97.7,58.1 L98.2,58.5 L98.8,59.0 L99.4,59.5 L100.0,60.0 L100.6,60.4 L101.1,60.9 L101.7,61.4 L102.3,61.9 L102.8,62.4 L103.4,62.9 L103.9,63.4 L104.5,63.9 L105.0,64.4 L105.6,64.9 L106.1,65.4 L106.6,65.9 L107.2,66.5 L107.7,67.0 L108.2,67.5 L108.8,68.0 L109.3,68.6 L109.8,69.1 L110.3,69.6 L110.9,70.2 L111.4,70.7 L111.9,71.2 L112.4,71.8 L112.9,72.3 L113.4,72.9 L113.9,73.4 L114.4,74.0 L114.9,74.5 L115.4,75.1 L115.9,75.7 L116.3,76.2 L116.8,76.8 L117.3,77.3 L117.8,77.9 L118.3,78.5 L118.7,79.1 L119.2,79.6 L119.7,80.2 L120.1,80.8 L120.6,81.4 L121.1,82.0 L121.5,82.6 L122.0,83.1 L122.4,83.7 L122.9,84.3 L123.3,84.9 L123.8,85.5 L124.2,86.1 L124.7,86.7 L125.1,87.3 L125.6,87.9 L126.0,88.5 L126.4,89.1 L126.9,89.7 L127.3,90.4 L127.7,91.0 L128.2,91.6 L128.6,92.2 L129.0,92.8 L129.4,93.4 L129.8,94.1 L130.2,94.7 L130.7,95.3 L131.1,95.9 L131.5,96.6 L131.9,97.2 L132.3,97.8 L132.7,98.5 L133.1,99.1 L133.5,99.7 L133.9,100.4 L134.3,101.0 L134.7,101.6 L135.1,102.3 L135.5,102.9 L135.9,103.6 L136.3,104.2 L136.6,104.9 L137.0,105.5 L137.4,106.2 L137.8,106.8 L138.2,107.5 L138.6,108.1 L138.9,108.8 L139.3,109.4 L139.7,110.1 L140.1,110.7 L140.4,111.4 L140.8,112.0 L141.2,112.7 L141.5,113.4 L141.9,114.0 L142.3,114.7 L142.6,115.3 L143.0,116.0 L143.3,116.7 L143.7,117.3 L144.1,118.0 L144.4,118.7 L144.8,119.3 L145.1,120.0 L145.5,120.7 L145.8,121.4 L146.2,122.0 L146.5,122.7 L146.9,123.4 L147.2,124.0 L147.6,124.7 L147.9,125.4 L148.3,126.1 L148.6,126.7 L148.9,127.4 L149.3,128.1 L149.6,128.8 L150.0,129.4 L150.3,130.1 L150.6,130.8 L151.0,131.5 L151.3,132.1 L151.6,132.8 L152.0,133.5 L152.3,134.2 L152.6,134.9 L153.0,135.5 L153.3,136.2 L153.6,136.9 L154.0,137.6 L154.3,138.3 L154.6,138.9 L154.9,139.6 L155.3,140.3 L155.6,141.0 L155.9,141.7 L156.3,142.3 L156.6,143.0 L156.9,143.7 L157.2,144.4 L157.5,145.1 L157.9,145.7 L158.2,146.4 L158.5,147.1 L158.8,147.8 L159.2,148.4 L159.5,149.1 L159.8,149.8 L160.1,150.5 L160.4,151.2 L160.7,151.8 L161.1,152.5 L161.4,153.2 L161.7,153.9 L162.0,154.5 L162.3,155.2 L162.7,155.9 L163.0,156.6 L163.3,157.2 L163.6,157.9 L163.9,158.6 L164.2,159.3 L164.6,159.9 L164.9,160.6 L165.2,161.3 L165.5,162.0 L165.8,162.6 L166.1,163.3 L166.4,164.0 L166.8,164.6 L167.1,165.3 L167.4,166.0 L167.7,166.7 L168.0,167.3 L168.3,168.0 L168.7,168.7 L169.0,169.3 L169.3,170.0 L169.6,170.7 L169.9,171.4 L170.2,172.0 L170.6,172.7 L170.9,173.4 L171.2,174.0 L171.5,174.7 L171.8,175.4 L172.1,176.1 L172.5,176.7 L172.8,177.4 L173.1,178.1 L173.4,178.7 L173.7,179.4 L174.0,180.1 L174.4,180.8 L174.7,181.4 L175.0,182.1 L175.3,182.8 L175.6,183.4 L176.0,184.1 L176.3,184.8 L176.6,185.5 L176.9,186.1 L177.2,186.8 L177.6,187.5 L177.9,188.1 L178.2,188.8 L178.5,189.5 L178.9,190.2 L179.2,190.8 L179.5,191.5 L179.8,192.2 L180.2,192.8 L180.5,193.5 L180.8,194.2 L181.2,194.9 L181.5,195.5 L181.8,196.2 L182.1,196.9 L182.5,197.6 L182.8,198.2 L183.1,198.9 L183.5,199.6 L183.8,200.3 L184.1,200.9 L184.5,201.6 L184.8,202.3 L185.2,203.0 L185.5,203.6 L185.8,204.3 L186.2,205.0 L186.5,205.7 L186.9,206.3 L187.2,207.0 L187.5,207.7 L187.9,208.4 L188.2,209.1 L188.6,209.7 L188.9,210.4 L189.3,211.1 L189.6,211.8 L190.0,212.5 L190.3,213.1 L190.7,213.8 L191.0,214.5 L191.4,215.2 L191.7,215.9 L192.1,216.5 L192.5,217.2 L192.8,217.9 L193.2,218.6 L193.6,219.2 L193.9,219.9 L194.3,220.6 L194.7,221.2 L195.0,221.9 L195.4,222.6 L195.8,223.2 L196.2,223.9 L196.6,224.5 L197.0,225.2 L197.4,225.9 L197.8,226.5 L198.2,227.1 L198.6,227.8 L199.0,228.4 L199.4,229.1 L199.8,229.7 L200.2,230.3 L200.6,230.9 L201.1,231.6 L201.5,232.2 L201.9,232.8 L202.4,233.4 L202.8,234.0 L203.3,234.6 L203.7,235.2 L204.2,235.8 L204.6,236.3 L205.1,236.9 L205.6,237.5 L206.0,238.1 L206.5,238.6 L207.0,239.2 L207.5,239.7 L208.0,240.3 L208.5,240.8 L209.0,241.3 L209.5,241.8 L210.0,242.4 L210.6,242.9 L211.1,243.4 L211.6,243.9 L212.2,244.4 L212.7,244.8 L213.3,245.3 L213.8,245.8 L214.4,246.3 L215.0,246.7 L215.5,247.2 L216.1,247.6 L216.7,248.1 L217.3,248.5 L217.8,248.9 L218.4,249.3 L219.0,249.8 L219.6,250.2 L220.2,250.6 L220.9,251.0 L221.5,251.4 L222.1,251.8 L222.7,252.1 L223.3,252.5 L224.0,252.9 L224.6,253.2 L225.2,253.6 L225.9,253.9 L226.5,254.3 L227.2,254.6 L227.8,255.0 L228.5,255.3 L229.1,255.6 L229.8,255.9 L230.5,256.2 L231.1,256.5 L231.8,256.8 L232.5,257.1 L233.2,257.4 L233.9,257.7 L234.5,258.0 L235.2,258.2 L235.9,258.5 L236.6,258.8 L237.3,259.0 L238.0,259.3 L238.7,259.5 L239.4,259.7 L240.1,260.0 L240.8,260.2 L241.6,260.4 L242.3,260.6 L243.0,260.8 L243.7,261.0 L244.4,261.2 L245.2,261.4 L245.9,261.6 L246.6,261.8 L247.3,262.0 L248.1,262.1 L248.8,262.3 L249.5,262.4 L250.3,262.6 L251.0,262.7 L251.8,262.9 L252.5,263.0 L253.2,263.2 L254.0,263.3 L254.7,263.4 L255.5,263.5 L256.2,263.6 L257.0,263.7 L257.7,263.8 L258.5,263.9 L259.2,264.0 L260.0,264.1 L260.8,264.2 L261.5,264.3 L262.3,264.3 L263.0,264.4 L263.8,264.4 L264.6,264.5 L265.3,264.6 L266.1,264.6 L266.8,264.6 L267.6,264.7 L268.4,264.7 L269.1,264.7 L269.9,264.8 L270.7,264.8 L271.4,264.8 L272.2,264.8 L273.0,264.8 L273.7,264.8 L274.5,264.8 L275.2,264.8 L276.0,264.8 L276.8,264.8 L277.5,264.8 L278.3,264.8 L279.1,264.8 L279.8,264.8 L280.6,264.8 L281.4,264.8 L282.1,264.7 L282.9,264.7 L283.7,264.7 L284.4,264.7 L285.2,264.7 L286.0,264.6 L286.7,264.6 L287.5,264.6 L288.3,264.5 L289.0,264.5 L289.8,264.5 L290.6,264.5 L291.3,264.4 L292.1,264.4 L292.9,264.4 L293.6,264.3 L294.4,264.3 L295.1,264.3 L295.9,264.3 L296.7,264.2 L297.4,264.2 L298.2,264.2 L298.9,264.2 L299.7,264.1 L300.4,264.1 L301.2,264.1 L301.9,264.1 L302.7,264.1 L303.4,264.0 L304.2,264.0 L304.9,264.0 L305.7,264.0 L306.4,264.0 L307.2,264.0 L307.9,264.0 L308.7,264.0 L309.4,264.0 L310.1,264.0 L310.9,264.0 L311.6,264.0 L312.3,264.1 L313.1,264.1 L313.8,264.1 L314.5,264.1 L315.3,264.2 L316.0,264.2 L316.7,264.2 L317.4,264.3 L318.2,264.3 L318.9,264.4 L319.6,264.5 L320.3,264.5 L321.0,264.6 L321.7,264.7 L322.5,264.7" fill="none" stroke="#0000ff" stroke-width="1.5" stroke-linejoin="round"/>
<path d="M63.2,39.2 L64.0,39.3 L64.8,39.4 L65.6,39.5 L66.3,39.7 L67.1,39.8 L67.9,39.9 L68.6,40.1 L69.4,40.3 L70.1,40.4 L70.9,40.6 L71.6,40.8 L72.4,41.0 L73.1,41.2 L73.8,41.4 L74.6,41.6 L75.3,41.9 L76.0,42.1 L76.7,42.4 L77.4,42.6 L78.2,42.9 L78.9,43.2 L79.6,43.4 L80.3,43.7 L81.0,44.0 L81.6,44.3 L82.3,44.6 L83.0,44.9 L83.7,45.3 L84.4,45.6 L85.0,45.9 L85.7,46.3 L86.4,46.6 L87.0,47.0 L87.7,47.3 L88.4,47.7 L89.0,48.1 L89.7,48.5 L90.3,48.9 L90.9,49.3 L91.6,49.7 L92.2,50.1 L92.9,50.5 L93.5,50.9 L94.1,51.3 L94.7,51.7 L95.4,52.2 L96.0,52.6 L96.6,53.1 L97.2,53.5 L97.8,54.0 L98.4,54.4 L99.0,54.9 L99.6,55.4 L100.2,55.8 L100.8,56.3 L101.4,56.8 L102.0,57.3 L102.5,57.8 L103.1,58.3 L103.7,58.8 L104.3,59.3 L104.8,59.8 L105.4,60.3 L106.0,60.8 L106.5,61.3 L107.1,61.8 L107.7,62.4 L108.2,62.9 L108.8,63.4 L109.3,64.0 L109.9,64.5 L110.4,65.0 L110.9,65.6 L111.5,66.1 L112.0,66.7 L112.6,67.2 L113.1,67.8 L113.6,68.3 L114.1,68.9 L114.7,69.4 L115.2,70.0 L115.7,70.6 L116.2,71.1 L116.7,71.7 L117.2,72.2 L117.8,72.8 L118.3,73.4 L118.8,74.0 L119.3,74.5 L119.8,75.1 L120.3,75.7 L120.8,76.3 L121.3,76.8 L121.7,77.4 L122.2,78.0 L122.7,78.6 L123.2,79.2 L123.7,79.8 L124.2,80.3 L124.6,80.9 L125.1,81.5 L125.6,82.1 L126.1,82.7 L126.5,83.3 L127.0,83.9 L127.5,84.5 L127.9,85.1 L128.4,85.7 L128.8,86.3 L129.3,86.9 L129.8,87.5 L130.2,88.1 L130.7,88.8 L131.1,89.4 L131.6,90.0 L132.0,90.6 L132.4,91.2 L132.9,91.8 L133.3,92.4 L133.8,93.1 L134.2,93.7 L134.6,94.3 L135.1,94.9 L135.5,95.6 L135.9,96.2 L136.3,96.8 L136.8,97.4 L137.2,98.1 L137.6,98.7 L138.0,99.3 L138.4,100.0 L138.9,100.6 L139.3,101.2 L139.7,101.9 L140.1,102.5 L140.5,103.1 L140.9,103.8 L141.3,104.4 L141.7,105.1 L142.1,105.7 L142.5,106.4 L142.9,107.0 L143.3,107.7 L143.7,108.3 L144.1,108.9 L144.5,109.6 L144.9,110.2 L145.3,110.9 L145.7,111.6 L146.0,112.2 L146.4,112.9 L146.8,113.5 L147.2,114.2 L147.6,114.8 L147.9,115.5 L148.3,116.2 L148.7,116.8 L149.1,117.5 L149.4,118.1 L149.8,118.8 L150.2,119.5 L150.6,120.1 L150.9,120.8 L151.3,121.5 L151.7,122.1 L152.0,122.8 L152.4,123.5 L152.7,124.1 L153.1,124.8 L153.5,125.5 L153.8,126.2 L154.2,126.8 L154.5,127.5 L154.9,128.2 L155.2,128.8 L155.6,129.5 L155.9,130.2 L156.3,130.9 L156.6,131.6 L157.0,132.2 L157.3,132.9 L157.7,133.6 L158.0,134.3 L158.4,135.0 L158.7,135.6 L159.0,136.3 L159.4,137.0 L159.7,137.7 L160.1,138.4 L160.4,139.1 L160.7,139.7 L161.1,140.4 L161.4,141.1 L161.7,141.8 L162.1,142.5 L162.4,143.2 L162.7,143.9 L163.1,144.6 L163.4,145.2 L163.7,145.9 L164.0,146.6 L164.4,147.3 L164.7,148.0 L165.0,148.7 L165.3,149.4 L165.7,150.1 L166.0,150.8 L166.3,151.5 L166.6,152.2 L166.9,152.8 L167.3,153.5 L167.6,154.2 L167.9,154.9 L168.2,155.6 L168.5,156.3 L168.9,157.0 L169.2,157.7 L169.5,158.4 L169.8,159.1 L170.1,159.8 L170.4,160.5 L170.7,161.2 L171.0,161.9 L171.4,162.6 L171.7,163.3 L172.0,164.0 L172.3,164.7 L172.6,165.4 L172.9,166.1 L173.2,166.8 L173.5,167.5 L173.8,168.2 L174.1,168.9 L174.5,169.6 L174.8,170.3 L175.1,171.0 L175.4,171.7 L175.7,172.4 L176.0,173.1 L176.3,173.7 L176.6,174.4 L176.9,175.1 L177.2,175.8 L177.5,176.5 L177.8,177.2 L178.1,177.9 L178.4,178.6 L178.7,179.3 L179.0,180.0 L179.3,180.7 L179.6,181.4 L180.0,182.1 L180.3,182.8 L180.6,183.5 L180.9,184.2 L181.2,184.9 L181.5,185.6 L181.8,186.3 L182.1,187.0 L182.4,187.7 L182.7,188.4 L183.0,189.1 L183.3,189.8 L183.6,190.5 L184.0,191.2 L184.3,191.9 L184.6,192.6 L184.9,193.3 L185.2,193.9 L185.5,194.6 L185.8,195.3 L186.2,196.0 L186.5,196.7 L186.8,197.4 L187.1,198.1 L187.4,198.8 L187.8,199.5 L188.1,200.2 L188.4,200.9 L188.7,201.5 L189.0,202.2 L189.4,202.9 L189.7,203.6 L190.0,204.3 L190.4,205.0 L190.7,205.7 L191.0,206.4 L191.4,207.0 L191.7,207.7 L192.0,208.4 L192.4,209.1 L192.7,209.8 L193.1,210.4 L193.4,211.1 L193.7,211.8 L194.1,212.5 L194.4,213.2 L194.8,213.8 L195.1,214.5 L195.5,215.2 L195.8,215.9 L196.2,216.6 L196.6,217.2 L196.9,217.9 L197.3,218.6 L197.6,219.3 L198.0,219.9 L198.4,220.6 L198.8,221.3 L199.1,221.9 L199.5,222.6 L199.9,223.3 L200.3,223.9 L200.6,224.6 L201.0,225.3 L201.4,225.9 L201.8,226.6 L202.2,227.3 L202.6,227.9 L203.0,228.6 L203.4,229.2 L203.8,229.9 L204.2,230.6 L204.6,231.2 L205.0,231.9 L205.4,232.5 L205.8,233.2 L206.2,233.8 L206.6,234.5 L207.1,235.1 L207.5,235.8 L207.9,236.4 L208.4,237.1 L208.8,237.7 L209.2,238.3 L209.7,239.0 L210.1,239.6 L210.6,240.2 L211.0,240.8 L211.5,241.5 L211.9,242.1 L212.4,242.7 L212.8,243.3 L213.3,243.9 L213.8,244.5 L214.3,245.1 L214.7,245.7 L215.2,246.3 L215.7,246.9 L216.2,247.4 L216.7,248.0 L217.2,248.6 L217.7,249.1 L218.2,249.7 L218.7,250.2 L219.3,250.8 L219.8,251.3 L220.3,251.8 L220.8,252.3 L221.4,252.8 L221.9,253.4 L222.5,253.8 L223.0,254.3 L223.6,254.8 L224.1,255.3 L224.7,255.8 L225.3,256.2 L225.8,256.7 L226.4,257.1 L227.0,257.6 L227.6,258.0 L228.2,258.4 L228.8,258.8 L229.4,259.2 L230.0,259.6 L230.6,260.0 L231.2,260.4 L231.9,260.7 L232.5,261.1 L233.1,261.5 L233.8,261.8 L234.4,262.1 L235.1,262.5 L235.7,262.8 L236.4,263.1 L237.1,263.4 L237.7,263.7 L238.4,264.0 L239.1,264.3 L239.8,264.5 L240.5,264.8 L241.1,265.1 L241.8,265.3 L242.5,265.6 L243.2,265.8 L243.9,266.0 L244.6,266.3 L245.4,266.5 L246.1,266.7 L246.8,266.9 L247.5,267.1 L248.2,267.3 L249.0,267.5 L249.7,267.7 L250.4,267.8 L251.2,268.0 L251.9,268.2 L252.7,268.3 L253.4,268.5 L254.2,268.6 L254.9,268.8 L255.7,268.9 L256.4,269.0 L257.2,269.2 L257.9,269.3 L258.7,269.4 L259.5,269.5 L260.2,269.6 L261.0,269.7 L261.8,269.8 L262.5,269.9 L263.3,270.0 L264.1,270.1 L264.9,270.1 L265.7,270.2 L266.4,270.3 L267.2,270.4 L268.0,270.4 L268.8,270.5 L269.6,270.5 L270.4,270.6 L271.1,270.6 L271.9,270.7 L272.7,270.7 L273.5,270.8 L274.3,270.8 L275.1,270.8 L275.9,270.8 L276.7,270.9 L277.5,270.9 L278.3,270.9 L279.1,270.9 L279.9,270.9 L280.7,271.0 L281.5,271.0 L282.2,271.0 L283.0,271.0 L283.8,271.0 L284.6,271.0 L285.4,271.0 L286.2,271.0 L287.0,271.0 L287.8,271.0 L288.6,271.0 L289.4,271.0 L290.2,270.9 L291.0,270.9 L291.8,270.9 L292.5,270.9 L293.3,270.9 L294.1,270.9 L294.9,270.9 L295.7,270.8 L296.5,270.8 L297.3,270.8 L298.0,270.8 L298.8,270.8 L299.6,270.7 L300.4,270.7 L301.1,270.7 L301.9,270.7 L302.7,270.7 L303.4,270.6 L304.2,270.6 L305.0,270.6 L305.7,270.6 L306.5,270.5 L307.2,270.5 L308.0,270.5 L308.7,270.5 L309.5,270.5 L310.2,270.5 L311.0,270.4 L311.7,270.4 L312.5,270.4 L313.2,270.4 L313.9,270.4 L314.7,270.4 L315.4,270.4 L316.1,270.4 L316.8,270.4 L317.5,270.4 L318.2,270.4 L319.0,270.4 L319.7,270.4 L320.4,270.4 L321.1,270.4 L321.7,270.4 L322.4,270.4" fill="none" stroke="#000000" stroke-width="1.5" stroke-linejoin="round"/>
<path d="M63.4,34.8 L64.1,34.9 L64.8,35.1 L65.6,35.3 L66.3,35.4 L67.1,35.6 L67.8,35.8 L68.6,35.9 L69.3,36.1 L70.0,36.3 L70.8,36.5 L71.5,36.7 L72.2,36.9 L73.0,37.2 L73.7,37.4 L74.4,37.6 L75.1,37.9 L75.8,38.1 L76.6,38.4 L77.3,38.6 L78.0,38.9 L78.7,39.1 L79.4,39.4 L80.1,39.7 L80.8,40.0 L81.6,40.3 L82.3,40.6 L83.0,40.9 L83.7,41.2 L84.4,41.5 L85.0,41.8 L85.7,42.1 L86.4,42.5 L87.1,42.8 L87.8,43.1 L88.5,43.5 L89.2,43.8 L89.9,44.2 L90.5,44.5 L91.2,44.9 L91.9,45.3 L92.5,45.6 L93.2,46.0 L93.9,46.4 L94.5,46.8 L95.2,47.2 L95.8,47.6 L96.5,48.0 L97.1,48.4 L97.8,48.8 L98.4,49.2 L99.1,49.6 L99.7,50.1 L100.3,50.5 L101.0,50.9 L101.6,51.3 L102.2,51.8 L102.9,52.2 L103.5,52.7 L104.1,53.1 L104.7,53.6 L105.3,54.1 L105.9,54.5 L106.5,55.0 L107.1,55.5 L107.7,55.9 L108.3,56.4 L108.9,56.9 L109.5,57.4 L110.1,57.9 L110.7,58.4 L111.2,58.9 L111.8,59.4 L112.4,59.9 L112.9,60.4 L113.5,60.9 L114.1,61.4 L114.6,61.9 L115.2,62.5 L115.7,63.0 L116.3,63.5 L116.8,64.0 L117.3,64.6 L117.9,65.1 L118.4,65.7 L118.9,66.2 L119.5,66.7 L120.0,67.3 L120.5,67.8 L121.0,68.4 L121.5,69.0 L122.0,69.5 L122.5,70.1 L123.0,70.6 L123.5,71.2 L124.0,71.8 L124.5,72.4 L125.0,72.9 L125.5,73.5 L126.0,74.1 L126.4,74.7 L126.9,75.3 L127.4,75.9 L127.9,76.5 L128.3,77.1 L128.8,77.6 L129.2,78.2 L129.7,78.9 L130.2,79.5 L130.6,80.1 L131.1,80.7 L131.5,81.3 L132.0,81.9 L132.4,82.5 L132.8,83.1 L133.3,83.8 L133.7,84.4 L134.1,85.0 L134.6,85.6 L135.0,86.3 L135.4,86.9 L135.8,87.5 L136.3,88.2 L136.7,88.8 L137.1,89.4 L137.5,90.1 L137.9,90.7 L138.3,91.4 L138.7,92.0 L139.1,92.7 L139.5,93.3 L139.9,94.0 L140.3,94.6 L140.7,95.3 L141.1,95.9 L141.5,96.6 L141.9,97.2 L142.3,97.9 L142.7,98.6 L143.1,99.2 L143.4,99.9 L143.8,100.6 L144.2,101.2 L144.6,101.9 L144.9,102.6 L145.3,103.2 L145.7,103.9 L146.0,104.6 L146.4,105.3 L146.8,105.9 L147.1,106.6 L147.5,107.3 L147.9,108.0 L148.2,108.7 L148.6,109.3 L148.9,110.0 L149.3,110.7 L149.6,111.4 L150.0,112.1 L150.3,112.8 L150.7,113.5 L151.0,114.1 L151.4,114.8 L151.7,115.5 L152.0,116.2 L152.4,116.9 L152.7,117.6 L153.1,118.3 L153.4,119.0 L153.7,119.7 L154.1,120.4 L154.4,121.1 L154.7,121.8 L155.1,122.5 L155.4,123.2 L155.7,123.9 L156.1,124.6 L156.4,125.3 L156.7,126.0 L157.0,126.7 L157.4,127.4 L157.7,128.1 L158.0,128.8 L158.3,129.5 L158.6,130.2 L159.0,130.9 L159.3,131.6 L159.6,132.3 L159.9,133.0 L160.2,133.7 L160.6,134.4 L160.9,135.1 L161.2,135.8 L161.5,136.5 L161.8,137.2 L162.1,137.9 L162.4,138.6 L162.8,139.3 L163.1,140.0 L163.4,140.7 L163.7,141.4 L164.0,142.1 L164.3,142.8 L164.6,143.5 L164.9,144.2 L165.2,144.9 L165.6,145.6 L165.9,146.3 L166.2,147.0 L166.5,147.7 L166.8,148.4 L167.1,149.1 L167.4,149.7 L167.7,150.4 L168.0,151.1 L168.3,151.8 L168.6,152.5 L169.0,153.2 L169.3,153.9 L169.6,154.6 L169.9,155.3 L170.2,156.0 L170.5,156.7 L170.8,157.4 L171.1,158.0 L171.4,158.7 L171.7,159.4 L172.1,160.1 L172.4,160.8 L172.7,161.5 L173.0,162.2 L173.3,162.8 L173.6,163.5 L173.9,164.2 L174.2,164.9 L174.5,165.6 L174.9,166.3 L175.2,166.9 L175.5,167.6 L175.8,168.3 L176.1,169.0 L176.4,169.7 L176.7,170.4 L177.0,171.0 L177.4,171.7 L177.7,172.4 L178.0,173.1 L178.3,173.8 L178.6,174.4 L178.9,175.1 L179.3,175.8 L179.6,176.5 L179.9,177.2 L180.2,177.9 L180.5,178.5 L180.8,179.2 L181.2,179.9 L181.5,180.6 L181.8,181.3 L182.1,181.9 L182.4,182.6 L182.8,183.3 L183.1,184.0 L183.4,184.7 L183.7,185.4 L184.0,186.0 L184.4,186.7 L184.7,187.4 L185.0,188.1 L185.3,188.8 L185.7,189.5 L186.0,190.1 L186.3,190.8 L186.6,191.5 L187.0,192.2 L187.3,192.9 L187.6,193.6 L188.0,194.3 L188.3,194.9 L188.6,195.6 L189.0,196.3 L189.3,197.0 L189.6,197.7 L190.0,198.4 L190.3,199.1 L190.6,199.8 L191.0,200.5 L191.3,201.2 L191.6,201.8 L192.0,202.5 L192.3,203.2 L192.7,203.9 L193.0,204.6 L193.3,205.3 L193.7,206.0 L194.0,206.7 L194.4,207.4 L194.7,208.1 L195.1,208.8 L195.4,209.5 L195.8,210.2 L196.1,210.9 L196.5,211.6 L196.8,212.3 L197.2,213.0 L197.5,213.7 L197.9,214.4 L198.2,215.1 L198.6,215.8 L199.0,216.5 L199.3,217.2 L199.7,217.9 L200.0,218.6 L200.4,219.3 L200.8,220.0 L201.1,220.7 L201.5,221.4 L201.9,222.1 L202.3,222.8 L202.6,223.5 L203.0,224.2 L203.4,224.9 L203.8,225.6 L204.2,226.3 L204.6,227.0 L205.0,227.6 L205.4,228.3 L205.8,229.0 L206.2,229.6 L206.6,230.3 L207.0,231.0 L207.4,231.6 L207.8,232.3 L208.2,232.9 L208.7,233.6 L209.1,234.2 L209.5,234.9 L210.0,235.5 L210.4,236.2 L210.8,236.8 L211.3,237.4 L211.7,238.0 L212.2,238.6 L212.6,239.2 L213.1,239.8 L213.6,240.4 L214.0,241.0 L214.5,241.6 L215.0,242.2 L215.5,242.8 L216.0,243.3 L216.5,243.9 L217.0,244.5 L217.5,245.0 L218.0,245.6 L218.5,246.1 L219.0,246.6 L219.5,247.1 L220.1,247.7 L220.6,248.2 L221.1,248.7 L221.7,249.2 L222.2,249.6 L222.8,250.1 L223.4,250.6 L223.9,251.0 L224.5,251.5 L225.1,251.9 L225.7,252.4 L226.3,252.8 L226.9,253.2 L227.5,253.7 L228.1,254.1 L228.7,254.5 L229.3,254.9 L229.9,255.2 L230.5,255.6 L231.2,256.0 L231.8,256.4 L232.5,256.7 L233.1,257.1 L233.7,257.4 L234.4,257.8 L235.1,258.1 L235.7,258.4 L236.4,258.7 L237.1,259.0 L237.7,259.3 L238.4,259.6 L239.1,259.9 L239.8,260.2 L240.5,260.5 L241.2,260.8 L241.9,261.0 L242.6,261.3 L243.3,261.6 L244.0,261.8 L244.7,262.0 L245.4,262.3 L246.1,262.5 L246.8,262.7 L247.6,263.0 L248.3,263.2 L249.0,263.4 L249.8,263.6 L250.5,263.8 L251.2,264.0 L252.0,264.2 L252.7,264.4 L253.5,264.5 L254.2,264.7 L255.0,264.9 L255.7,265.0 L256.5,265.2 L257.2,265.4 L258.0,265.5 L258.8,265.6 L259.5,265.8 L260.3,265.9 L261.1,266.0 L261.8,266.2 L262.6,266.3 L263.4,266.4 L264.1,266.5 L264.9,266.6 L265.7,266.7 L266.5,266.8 L267.3,266.9 L268.0,267.0 L268.8,267.1 L269.6,267.2 L270.4,267.3 L271.2,267.4 L272.0,267.4 L272.8,267.5 L273.5,267.6 L274.3,267.6 L275.1,267.7 L275.9,267.7 L276.7,267.8 L277.5,267.8 L278.3,267.9 L279.1,267.9 L279.9,268.0 L280.7,268.0 L281.5,268.0 L282.2,268.1 L283.0,268.1 L283.8,268.1 L284.6,268.1 L285.4,268.2 L286.2,268.2 L287.0,268.2 L287.8,268.2 L288.6,268.2 L289.4,268.2 L290.2,268.2 L290.9,268.2 L291.7,268.2 L292.5,268.2 L293.3,268.2 L294.1,268.2 L294.9,268.2 L295.6,268.2 L296.4,268.2 L297.2,268.2 L298.0,268.1 L298.8,268.1 L299.5,268.1 L300.3,268.1 L301.1,268.1 L301.8,268.1 L302.6,268.0 L303.4,268.0 L304.1,268.0 L304.9,267.9 L305.7,267.9 L306.4,267.9 L307.2,267.9 L307.9,267.8 L308.7,267.8 L309.4,267.8 L310.2,267.7 L310.9,267.7 L311.7,267.7 L312.4,267.6 L313.1,267.6 L313.9,267.5 L314.6,267.5 L315.3,267.5 L316.0,267.4 L316.8,267.4 L317.5,267.4 L318.2,267.3 L318.9,267.3 L319.6,267.2 L320.3,267.2 L321.0,267.2 L321.7,267.1 L322.4,267.1" fill="none" stroke="#ff0000" stroke-width="1.5" stroke-linejoin="round"/>
<rect x="45.5" y="12.5" width="313.5" height="279.5" fill="none" stroke="#333333" stroke-width="1.5"/>
<line x1="42.50" y1="292.10" x2="45.50" y2="292.10" stroke="#333333" stroke-width="1.3"/>
<line x1="42.50" y1="279.15" x2="45.50" y2="279.15" stroke="#333333" stroke-width="1.3"/>
<line x1="42.50" y1="269.10" x2="45.50" y2="269.10" stroke="#333333" stroke-width="1.3"/>
<line x1="42.50" y1="260.89" x2="45.50" y2="260.89" stroke="#333333" stroke-width="1.3"/>
<line x1="42.50" y1="253.96" x2="45.50" y2="253.96" stroke="#333333" stroke-width="1.3"/>
<line x1="42.50" y1="247.94" x2="45.50" y2="247.94" stroke="#333333" stroke-width="1.3"/>
<line x1="42.50" y1="242.64" x2="45.50" y2="242.64" stroke="#333333" stroke-width="1.3"/>
<line x1="40.30" y1="237.90" x2="45.50" y2="237.90" stroke="#333333" stroke-width="1.3"/>
<line x1="42.50" y1="206.70" x2="45.50" y2="206.70" stroke="#333333" stroke-width="1.3"/>
<line x1="42.50" y1="188.45" x2="45.50" y2="188.45" stroke="#333333" stroke-width="1.3"/>
<line x1="42.50" y1="175.50" x2="45.50" y2="175.50" stroke="#333333" stroke-width="1.3"/>
<line x1="42.50" y1="165.45" x2="45.50" y2="165.45" stroke="#333333" stroke-width="1.3"/>
<line x1="42.50" y1="157.24" x2="45.50" y2="157.24" stroke="#333333" stroke-width="1.3"/>
<line x1="42.50" y1="150.31" x2="45.50" y2="150.31" stroke="#333333" stroke-width="1.3"/>
<line x1="42.50" y1="144.29" x2="45.50" y2="144.29" stroke="#333333" stroke-width="1.3"/>
<line x1="42.50" y1="138.99" x2="45.50" y2="138.99" stroke="#333333" stroke-width="1.3"/>
<line x1="40.30" y1="134.25" x2="45.50" y2="134.25" stroke="#333333" stroke-width="1.3"/>
<line x1="42.50" y1="103.05" x2="45.50" y2="103.05" stroke="#333333" stroke-width="1.3"/>
<line x1="42.50" y1="84.80" x2="45.50" y2="84.80" stroke="#333333" stroke-width="1.3"/>
<line x1="42.50" y1="71.85" x2="45.50" y2="71.85" stroke="#333333" stroke-width="1.3"/>
<line x1="42.50" y1="61.80" x2="45.50" y2="61.80" stroke="#333333" stroke-width="1.3"/>
<line x1="42.50" y1="53.59" x2="45.50" y2="53.59" stroke="#333333" stroke-width="1.3"/>
<line x1="42.50" y1="46.66" x2="45.50" y2="46.66" stroke="#333333" stroke-width="1.3"/>
<line x1="42.50" y1="40.64" x2="45.50" y2="40.64" stroke="#333333" stroke-width="1.3"/>
<line x1="42.50" y1="35.34" x2="45.50" y2="35.34" stroke="#333333" stroke-width="1.3"/>
<line x1="40.30" y1="30.60" x2="45.50" y2="30.60" stroke="#333333" stroke-width="1.3"/>
<line x1="68.72" y1="292.00" x2="68.72" y2="297.80" stroke="#333333" stroke-width="1.3"/>
<line x1="97.75" y1="292.00" x2="97.75" y2="295.30" stroke="#333333" stroke-width="1.3"/>
<line x1="126.78" y1="292.00" x2="126.78" y2="297.80" stroke="#333333" stroke-width="1.3"/>
<line x1="155.81" y1="292.00" x2="155.81" y2="295.30" stroke="#333333" stroke-width="1.3"/>
<line x1="184.83" y1="292.00" x2="184.83" y2="297.80" stroke="#333333" stroke-width="1.3"/>
<line x1="213.86" y1="292.00" x2="213.86" y2="295.30" stroke="#333333" stroke-width="1.3"/>
<line x1="242.89" y1="292.00" x2="242.89" y2="297.80" stroke="#333333" stroke-width="1.3"/>
<line x1="271.92" y1="292.00" x2="271.92" y2="295.30" stroke="#333333" stroke-width="1.3"/>
<line x1="300.94" y1="292.00" x2="300.94" y2="297.80" stroke="#333333" stroke-width="1.3"/>
<line x1="329.97" y1="292.00" x2="329.97" y2="295.30" stroke="#333333" stroke-width="1.3"/>
<line x1="359.00" y1="292.00" x2="359.00" y2="297.80" stroke="#333333" stroke-width="1.3"/>
<text transform="translate(14.48,34.02) scale(0.9614,1)" font-size="12.70" font-weight="bold" stroke="#111" stroke-width="0.2" >1E9</text>
<text transform="translate(14.49,137.32) scale(0.9533,1)" font-size="12.70" font-weight="bold" stroke="#111" stroke-width="0.2" >1E8</text>
<text transform="translate(14.49,241.15) scale(0.9513,1)" font-size="12.70" font-weight="bold" stroke="#111" stroke-width="0.2" >1E7</text>
<text transform="translate(61.79,311.72) scale(0.9750,1)" font-size="12.70" font-weight="bold" stroke="#111" stroke-width="0.2" >25</text>
<text transform="translate(119.96,311.72) scale(0.9750,1)" font-size="12.70" font-weight="bold" stroke="#111" stroke-width="0.2" >50</text>
<text transform="translate(177.86,311.72) scale(0.9750,1)" font-size="12.70" font-weight="bold" stroke="#111" stroke-width="0.2" >75</text>
<text transform="translate(232.43,311.72) scale(0.9750,1)" font-size="12.70" font-weight="bold" stroke="#111" stroke-width="0.2" >100</text>
<text transform="translate(290.40,311.72) scale(0.9750,1)" font-size="12.70" font-weight="bold" stroke="#111" stroke-width="0.2" >125</text>
<text transform="translate(348.54,311.72) scale(0.9750,1)" font-size="12.70" font-weight="bold" stroke="#111" stroke-width="0.2" >150</text>
<text transform="translate(25.49,18.57) scale(0.8858,1)" font-size="14.79" font-weight="bold" stroke="#111" stroke-width="0.2" >(a)</text>
<g transform="translate(0,0) rotate(-90)">
<text transform="translate(-179.41,15.05) scale(1.0112,1)" font-size="13.40" font-weight="bold" stroke="#111" stroke-width="0.2" >G', Pa</text>
</g>
<text transform="translate(135.90,332.60) scale(0.9377,1)" font-size="13.8" font-weight="bold" stroke="#111" stroke-width="0.2">Temperature, <tspan font-size="9.66" dy="-7.73" dx="0.28" stroke-width="0.05">o</tspan><tspan dy="7.73">C</tspan></text>
<rect x="264.6" y="18.6" width="86.1" height="126.7" fill="#fff" stroke="#8c8c8c" stroke-width="1"/>
<line x1="268.10" y1="29.30" x2="295.80" y2="29.30" stroke="#000000" stroke-width="1.5"/>
<text transform="translate(299.59,33.72) scale(0.9904,1)" font-size="12.90" font-weight="bold" stroke="#111" stroke-width="0.2" >DMI 100</text>
<line x1="268.10" y1="47.40" x2="295.80" y2="47.40" stroke="#ff0000" stroke-width="1.5"/>
<text transform="translate(299.59,51.82) scale(0.9904,1)" font-size="12.90" font-weight="bold" stroke="#111" stroke-width="0.2" >DMI 90</text>
<line x1="268.10" y1="65.50" x2="295.80" y2="65.50" stroke="#0000ff" stroke-width="1.5"/>
<text transform="translate(299.59,69.92) scale(0.9904,1)" font-size="12.90" font-weight="bold" stroke="#111" stroke-width="0.2" >DMI 80</text>
<line x1="268.10" y1="83.60" x2="295.80" y2="83.60" stroke="#00ff00" stroke-width="1.5"/>
<text transform="translate(299.59,88.02) scale(0.9904,1)" font-size="12.90" font-weight="bold" stroke="#111" stroke-width="0.2" >DMI 65</text>
<line x1="268.10" y1="101.70" x2="295.80" y2="101.70" stroke="#808000" stroke-width="1.5"/>
<text transform="translate(299.59,106.12) scale(0.9904,1)" font-size="12.90" font-weight="bold" stroke="#111" stroke-width="0.2" >DMI 50</text>
<line x1="268.10" y1="119.80" x2="295.80" y2="119.80" stroke="#ff8000" stroke-width="1.5"/>
<text transform="translate(299.59,124.22) scale(0.9904,1)" font-size="12.90" font-weight="bold" stroke="#111" stroke-width="0.2" >DMI 25</text>
<line x1="268.10" y1="137.90" x2="295.80" y2="137.90" stroke="#008000" stroke-width="1.5"/>
<text transform="translate(299.59,142.32) scale(0.9904,1)" font-size="12.90" font-weight="bold" stroke="#111" stroke-width="0.2" >DMI 0</text>
<path d="M451.9,212.3 L452.7,211.9 L453.5,211.5 L454.3,211.1 L455.1,210.7 L455.9,210.4 L456.6,210.0 L457.4,209.6 L458.2,209.2 L458.9,208.7 L459.6,208.3 L460.4,207.9 L461.1,207.5 L461.9,207.1 L462.6,206.6 L463.3,206.2 L464.0,205.7 L464.7,205.3 L465.4,204.8 L466.1,204.4 L466.8,203.9 L467.5,203.5 L468.2,203.0 L468.9,202.5 L469.5,202.0 L470.2,201.6 L470.9,201.1 L471.5,200.6 L472.2,200.1 L472.8,199.6 L473.5,199.1 L474.1,198.6 L474.8,198.1 L475.4,197.6 L476.0,197.0 L476.7,196.5 L477.3,196.0 L477.9,195.5 L478.5,194.9 L479.1,194.4 L479.7,193.8 L480.3,193.3 L480.9,192.7 L481.5,192.2 L482.1,191.6 L482.7,191.1 L483.3,190.5 L483.9,190.0 L484.4,189.4 L485.0,188.8 L485.6,188.2 L486.2,187.7 L486.7,187.1 L487.3,186.5 L487.8,185.9 L488.4,185.3 L488.9,184.7 L489.5,184.1 L490.0,183.5 L490.6,182.9 L491.1,182.3 L491.7,181.7 L492.2,181.1 L492.7,180.5 L493.3,179.9 L493.8,179.2 L494.3,178.6 L494.8,178.0 L495.3,177.4 L495.9,176.7 L496.4,176.1 L496.9,175.5 L497.4,174.8 L497.9,174.2 L498.4,173.5 L498.9,172.9 L499.4,172.3 L499.9,171.6 L500.4,171.0 L500.9,170.3 L501.4,169.6 L501.9,169.0 L502.4,168.3 L502.9,167.7 L503.4,167.0 L503.9,166.3 L504.3,165.7 L504.8,165.0 L505.3,164.3 L505.8,163.7 L506.3,163.0 L506.8,162.3 L507.2,161.6 L507.7,161.0 L508.2,160.3 L508.7,159.6 L509.1,158.9 L509.6,158.2 L510.1,157.6 L510.6,156.9 L511.0,156.2 L511.5,155.5 L512.0,154.8 L512.4,154.1 L512.9,153.4 L513.4,152.7 L513.9,152.0 L514.3,151.3 L514.8,150.7 L515.3,150.0 L515.7,149.3 L516.2,148.6 L516.7,147.9 L517.1,147.2 L517.6,146.5 L518.1,145.8 L518.5,145.1 L519.0,144.4 L519.5,143.7 L519.9,142.9 L520.4,142.2 L520.9,141.5 L521.3,140.8 L521.8,140.1 L522.3,139.4 L522.8,138.7 L523.2,138.0 L523.7,137.3 L524.2,136.6 L524.7,135.9 L525.1,135.2 L525.6,134.5 L526.1,133.8 L526.6,133.1 L527.1,132.4 L527.5,131.7 L528.0,131.0 L528.5,130.3 L529.0,129.6 L529.5,128.9 L530.0,128.2 L530.5,127.5 L531.0,126.9 L531.5,126.2 L532.1,125.6 L532.6,125.0 L533.1,124.4 L533.7,123.8 L534.3,123.2 L534.8,122.7 L535.4,122.2 L536.0,121.7 L536.7,121.2 L537.3,120.8 L537.9,120.4 L538.6,120.0 L539.3,119.6 L540.0,119.3 L540.7,119.0 L541.4,118.8 L542.2,118.6 L543.0,118.4 L543.7,118.3 L544.5,118.2 L545.3,118.1 L546.1,118.1 L546.9,118.1 L547.7,118.1 L548.5,118.2 L549.3,118.3 L550.1,118.5 L550.9,118.7 L551.6,118.9 L552.4,119.1 L553.1,119.4 L553.8,119.8 L554.5,120.1 L555.2,120.5 L555.8,121.0 L556.5,121.4 L557.1,121.9 L557.7,122.4 L558.3,123.0 L558.8,123.5 L559.4,124.1 L559.9,124.8 L560.4,125.4 L560.9,126.1 L561.4,126.7 L561.9,127.5 L562.3,128.2 L562.8,128.9 L563.2,129.7 L563.7,130.4 L564.1,131.2 L564.5,132.0 L564.9,132.8 L565.3,133.6 L565.7,134.4 L566.1,135.2 L566.5,136.0 L566.8,136.8 L567.2,137.6 L567.6,138.5 L567.9,139.3 L568.3,140.1 L568.7,140.9 L569.0,141.7 L569.4,142.6 L569.7,143.4 L570.1,144.2 L570.4,145.0 L570.8,145.8 L571.1,146.6 L571.5,147.4 L571.8,148.1 L572.2,148.9 L572.5,149.7 L572.8,150.5 L573.2,151.3 L573.5,152.1 L573.8,152.8 L574.2,153.6 L574.5,154.4 L574.8,155.2 L575.2,155.9 L575.5,156.7 L575.8,157.5 L576.2,158.2 L576.5,159.0 L576.8,159.8 L577.1,160.5 L577.5,161.3 L577.8,162.0 L578.1,162.8 L578.4,163.5 L578.7,164.3 L579.1,165.0 L579.4,165.8 L579.7,166.5 L580.0,167.3 L580.3,168.0 L580.6,168.8 L580.9,169.5 L581.3,170.3 L581.6,171.0 L581.9,171.8 L582.2,172.5 L582.5,173.2 L582.8,174.0 L583.1,174.7 L583.4,175.5 L583.7,176.2 L584.1,177.0 L584.4,177.7 L584.7,178.4 L585.0,179.2 L585.3,179.9 L585.6,180.7 L585.9,181.4 L586.2,182.1 L586.5,182.9 L586.8,183.6 L587.1,184.4 L587.5,185.1 L587.8,185.8 L588.1,186.6 L588.4,187.3 L588.7,188.1 L589.0,188.8 L589.3,189.6 L589.6,190.3 L589.9,191.1 L590.2,191.8 L590.6,192.5 L590.9,193.3 L591.2,194.1 L591.5,194.8 L591.8,195.6 L592.1,196.3 L592.4,197.1 L592.8,197.8 L593.1,198.6 L593.4,199.3 L593.7,200.1 L594.0,200.9 L594.3,201.6 L594.7,202.4 L595.0,203.2 L595.3,203.9 L595.6,204.7 L596.0,205.5 L596.3,206.3 L596.6,207.0 L597.0,207.8 L597.3,208.6 L597.6,209.4 L597.9,210.1 L598.3,210.9 L598.6,211.7 L599.0,212.5 L599.3,213.2 L599.6,214.0 L600.0,214.8 L600.3,215.6 L600.7,216.3 L601.0,217.1 L601.4,217.9 L601.7,218.7 L602.1,219.4 L602.5,220.2 L602.8,221.0 L603.2,221.7 L603.6,222.5 L603.9,223.3 L604.3,224.0 L604.7,224.8 L605.1,225.6 L605.4,226.3 L605.8,227.1 L606.2,227.8 L606.6,228.6 L607.0,229.3 L607.4,230.1 L607.8,230.8 L608.2,231.6 L608.6,232.3 L609.0,233.1 L609.4,233.8 L609.8,234.5 L610.2,235.3 L610.7,236.0 L611.1,236.7 L611.5,237.4 L612.0,238.2 L612.4,238.9 L612.8,239.6 L613.3,240.3 L613.7,241.0 L614.2,241.7 L614.6,242.4 L615.1,243.1 L615.6,243.8 L616.0,244.5 L616.5,245.2 L617.0,245.8 L617.5,246.5 L618.0,247.2 L618.4,247.8 L618.9,248.5 L619.4,249.1 L619.9,249.8 L620.5,250.4 L621.0,251.1 L621.5,251.7 L622.0,252.3 L622.5,253.0 L623.1,253.6 L623.6,254.2 L624.2,254.8 L624.7,255.4 L625.3,256.0 L625.8,256.6 L626.4,257.1 L627.0,257.7 L627.5,258.3 L628.1,258.9 L628.7,259.4 L629.3,260.0 L629.9,260.5 L630.5,261.0 L631.1,261.6 L631.7,262.1 L632.4,262.6 L633.0,263.1 L633.6,263.6 L634.3,264.1 L634.9,264.6 L635.6,265.1 L636.2,265.5 L636.9,266.0 L637.5,266.5 L638.2,266.9 L638.9,267.4 L639.6,267.8 L640.3,268.3 L640.9,268.7 L641.6,269.1 L642.3,269.5 L643.0,269.9 L643.7,270.3 L644.4,270.7 L645.2,271.1 L645.9,271.5 L646.6,271.9 L647.3,272.3 L648.1,272.6 L648.8,273.0 L649.5,273.3 L650.3,273.7 L651.0,274.0 L651.8,274.3 L652.5,274.7 L653.3,275.0 L654.0,275.3 L654.8,275.6 L655.6,275.9 L656.3,276.2 L657.1,276.5 L657.9,276.8 L658.6,277.1 L659.4,277.3 L660.2,277.6 L661.0,277.9 L661.8,278.1 L662.6,278.4 L663.4,278.6 L664.2,278.8 L665.0,279.1 L665.7,279.3 L666.5,279.5 L667.4,279.7 L668.2,279.9 L669.0,280.1 L669.8,280.3 L670.6,280.5 L671.4,280.7 L672.2,280.9 L673.0,281.1 L673.8,281.2 L674.6,281.4 L675.5,281.6 L676.3,281.7 L677.1,281.8 L677.9,282.0 L678.7,282.1 L679.6,282.2 L680.4,282.4 L681.2,282.5 L682.0,282.6 L682.9,282.7 L683.7,282.8 L684.5,282.9 L685.3,283.0 L686.2,283.1 L687.0,283.2 L687.8,283.3 L688.6,283.3 L689.5,283.4 L690.3,283.5 L691.1,283.5 L692.0,283.6 L692.8,283.7 L693.6,283.7 L694.5,283.8 L695.3,283.8 L696.1,283.9 L696.9,283.9 L697.8,284.0 L698.6,284.0 L699.4,284.1 L700.3,284.1 L701.1,284.1 L701.9,284.2 L702.8,284.2 L703.6,284.3 L704.4,284.3 L705.3,284.3 L706.1,284.4 L706.9,284.4 L707.7,284.4 L708.6,284.5 L709.4,284.5 L710.2,284.5 L711.1,284.6 L711.9,284.6 L712.7,284.7 L713.5,284.7 L714.4,284.7 L715.2,284.8 L716.0,284.8 L716.8,284.9 L717.7,284.9 L718.5,285.0 L719.3,285.0 L720.1,285.1 L721.0,285.2 L721.8,285.2 L722.6,285.3 L723.4,285.4 L724.2,285.4 L725.1,285.5 L725.9,285.6 L726.7,285.7 L727.5,285.8 L728.3,285.9 L729.1,286.0 L729.9,286.1 L730.7,286.2 L731.6,286.3" fill="none" stroke="#008080" stroke-width="1.5" stroke-linejoin="round"/>
<path d="M451.7,222.7 L452.6,222.4 L453.5,222.2 L454.4,221.9 L455.4,221.7 L456.3,221.4 L457.1,221.1 L458.0,220.8 L458.9,220.5 L459.8,220.2 L460.7,219.9 L461.5,219.6 L462.4,219.2 L463.2,218.9 L464.0,218.5 L464.9,218.2 L465.7,217.8 L466.5,217.4 L467.3,217.0 L468.1,216.6 L468.9,216.2 L469.7,215.8 L470.5,215.4 L471.2,214.9 L472.0,214.5 L472.8,214.0 L473.5,213.6 L474.3,213.1 L475.0,212.6 L475.7,212.2 L476.5,211.7 L477.2,211.2 L477.9,210.7 L478.6,210.2 L479.3,209.7 L480.0,209.1 L480.7,208.6 L481.4,208.1 L482.0,207.5 L482.7,207.0 L483.4,206.4 L484.0,205.9 L484.7,205.3 L485.3,204.7 L486.0,204.1 L486.6,203.5 L487.3,202.9 L487.9,202.3 L488.5,201.7 L489.1,201.1 L489.7,200.5 L490.3,199.9 L490.9,199.3 L491.5,198.6 L492.1,198.0 L492.7,197.3 L493.3,196.7 L493.9,196.0 L494.4,195.4 L495.0,194.7 L495.6,194.0 L496.1,193.4 L496.7,192.7 L497.2,192.0 L497.8,191.3 L498.3,190.6 L498.8,189.9 L499.4,189.2 L499.9,188.5 L500.4,187.8 L500.9,187.1 L501.5,186.4 L502.0,185.7 L502.5,184.9 L503.0,184.2 L503.5,183.5 L504.0,182.8 L504.5,182.0 L505.0,181.3 L505.5,180.5 L505.9,179.8 L506.4,179.0 L506.9,178.3 L507.4,177.5 L507.8,176.8 L508.3,176.0 L508.8,175.3 L509.2,174.5 L509.7,173.7 L510.1,173.0 L510.6,172.2 L511.0,171.4 L511.5,170.7 L511.9,169.9 L512.4,169.1 L512.8,168.3 L513.2,167.5 L513.7,166.8 L514.1,166.0 L514.5,165.2 L515.0,164.4 L515.4,163.6 L515.8,162.8 L516.2,162.0 L516.7,161.3 L517.1,160.5 L517.5,159.7 L517.9,158.9 L518.3,158.1 L518.7,157.3 L519.1,156.5 L519.5,155.7 L520.0,154.9 L520.4,154.1 L520.8,153.3 L521.2,152.6 L521.6,151.8 L522.0,151.0 L522.4,150.2 L522.8,149.4 L523.2,148.6 L523.6,147.8 L523.9,147.0 L524.3,146.2 L524.7,145.5 L525.1,144.7 L525.5,143.9 L525.9,143.1 L526.3,142.3 L526.7,141.5 L527.1,140.8 L527.5,140.0 L527.9,139.2 L528.2,138.5 L528.6,137.7 L529.0,136.9 L529.4,136.1 L529.8,135.4 L530.2,134.6 L530.6,133.8 L531.0,133.1 L531.4,132.3 L531.9,131.5 L532.3,130.8 L532.7,130.0 L533.1,129.2 L533.6,128.4 L534.0,127.7 L534.5,126.9 L534.9,126.1 L535.4,125.3 L535.9,124.6 L536.4,123.8 L536.9,123.0 L537.4,122.2 L537.9,121.4 L538.5,120.6 L539.0,119.8 L539.6,119.0 L540.1,118.2 L540.7,117.4 L541.3,116.6 L541.9,115.8 L542.5,115.0 L543.2,114.2 L543.8,113.4 L544.4,112.6 L545.1,111.9 L545.7,111.2 L546.4,110.5 L547.1,109.8 L547.8,109.1 L548.4,108.5 L549.1,107.9 L549.8,107.4 L550.5,106.9 L551.2,106.4 L551.9,105.9 L552.6,105.5 L553.3,105.2 L554.0,104.9 L554.7,104.6 L555.4,104.4 L556.1,104.3 L556.8,104.2 L557.5,104.2 L558.2,104.2 L558.9,104.3 L559.5,104.5 L560.2,104.7 L560.9,104.9 L561.6,105.2 L562.2,105.6 L562.9,106.0 L563.5,106.4 L564.2,106.9 L564.8,107.5 L565.5,108.0 L566.1,108.6 L566.7,109.3 L567.3,109.9 L568.0,110.6 L568.6,111.3 L569.2,112.0 L569.7,112.8 L570.3,113.6 L570.9,114.4 L571.4,115.2 L572.0,116.0 L572.5,116.8 L573.1,117.6 L573.6,118.5 L574.1,119.3 L574.6,120.2 L575.1,121.0 L575.6,121.8 L576.1,122.7 L576.5,123.5 L577.0,124.4 L577.4,125.2 L577.9,126.0 L578.3,126.9 L578.7,127.7 L579.1,128.6 L579.5,129.4 L579.9,130.2 L580.3,131.1 L580.7,131.9 L581.1,132.8 L581.4,133.6 L581.8,134.4 L582.1,135.3 L582.5,136.1 L582.8,137.0 L583.2,137.8 L583.5,138.6 L583.8,139.5 L584.1,140.3 L584.5,141.1 L584.8,142.0 L585.1,142.8 L585.4,143.7 L585.7,144.5 L586.0,145.3 L586.3,146.2 L586.6,147.0 L586.8,147.8 L587.1,148.7 L587.4,149.5 L587.7,150.3 L588.0,151.2 L588.2,152.0 L588.5,152.8 L588.8,153.7 L589.1,154.5 L589.3,155.3 L589.6,156.2 L589.9,157.0 L590.1,157.8 L590.4,158.6 L590.7,159.5 L591.0,160.3 L591.2,161.1 L591.5,162.0 L591.8,162.8 L592.1,163.6 L592.3,164.4 L592.6,165.3 L592.9,166.1 L593.2,166.9 L593.4,167.7 L593.7,168.6 L594.0,169.4 L594.3,170.2 L594.6,171.0 L594.9,171.9 L595.1,172.7 L595.4,173.5 L595.7,174.3 L596.0,175.1 L596.3,176.0 L596.6,176.8 L596.9,177.6 L597.2,178.4 L597.5,179.2 L597.8,180.1 L598.1,180.9 L598.4,181.7 L598.7,182.5 L599.0,183.3 L599.3,184.2 L599.6,185.0 L599.9,185.8 L600.2,186.6 L600.5,187.4 L600.8,188.3 L601.1,189.1 L601.4,189.9 L601.7,190.7 L602.0,191.5 L602.3,192.4 L602.7,193.2 L603.0,194.0 L603.3,194.8 L603.6,195.6 L603.9,196.4 L604.3,197.3 L604.6,198.1 L604.9,198.9 L605.2,199.7 L605.6,200.5 L605.9,201.4 L606.2,202.2 L606.6,203.0 L606.9,203.8 L607.2,204.6 L607.6,205.5 L607.9,206.3 L608.2,207.1 L608.6,207.9 L608.9,208.7 L609.3,209.6 L609.6,210.4 L610.0,211.2 L610.3,212.0 L610.6,212.9 L611.0,213.7 L611.4,214.5 L611.7,215.3 L612.1,216.2 L612.4,217.0 L612.8,217.8 L613.1,218.6 L613.5,219.5 L613.9,220.3 L614.2,221.1 L614.6,221.9 L615.0,222.8 L615.3,223.6 L615.7,224.4 L616.1,225.2 L616.5,226.1 L616.9,226.9 L617.2,227.7 L617.6,228.5 L618.0,229.4 L618.4,230.2 L618.8,231.0 L619.2,231.8 L619.6,232.6 L620.0,233.4 L620.4,234.3 L620.8,235.1 L621.3,235.9 L621.7,236.7 L622.1,237.5 L622.5,238.3 L623.0,239.1 L623.4,239.8 L623.8,240.6 L624.3,241.4 L624.7,242.2 L625.2,243.0 L625.7,243.7 L626.1,244.5 L626.6,245.3 L627.1,246.0 L627.5,246.8 L628.0,247.5 L628.5,248.2 L629.0,249.0 L629.5,249.7 L630.0,250.4 L630.5,251.1 L631.1,251.8 L631.6,252.5 L632.1,253.2 L632.7,253.9 L633.2,254.6 L633.8,255.3 L634.3,256.0 L634.9,256.6 L635.5,257.3 L636.1,257.9 L636.6,258.6 L637.2,259.2 L637.8,259.8 L638.5,260.4 L639.1,261.0 L639.7,261.6 L640.3,262.2 L641.0,262.8 L641.6,263.3 L642.3,263.9 L643.0,264.5 L643.6,265.0 L644.3,265.5 L645.0,266.1 L645.7,266.6 L646.4,267.1 L647.1,267.6 L647.8,268.1 L648.5,268.5 L649.3,269.0 L650.0,269.5 L650.7,269.9 L651.5,270.4 L652.2,270.8 L653.0,271.3 L653.8,271.7 L654.5,272.1 L655.3,272.5 L656.1,272.9 L656.9,273.3 L657.6,273.7 L658.4,274.1 L659.2,274.4 L660.0,274.8 L660.9,275.1 L661.7,275.5 L662.5,275.8 L663.3,276.1 L664.1,276.5 L665.0,276.8 L665.8,277.1 L666.6,277.4 L667.5,277.7 L668.3,278.0 L669.2,278.2 L670.0,278.5 L670.9,278.8 L671.7,279.0 L672.6,279.3 L673.5,279.5 L674.3,279.8 L675.2,280.0 L676.1,280.2 L676.9,280.4 L677.8,280.6 L678.7,280.8 L679.5,281.0 L680.4,281.2 L681.3,281.4 L682.2,281.6 L683.1,281.8 L684.0,281.9 L684.8,282.1 L685.7,282.2 L686.6,282.4 L687.5,282.5 L688.4,282.6 L689.3,282.8 L690.2,282.9 L691.1,283.0 L691.9,283.1 L692.8,283.2 L693.7,283.3 L694.6,283.4 L695.5,283.5 L696.4,283.6 L697.3,283.6 L698.2,283.7 L699.0,283.8 L699.9,283.8 L700.8,283.9 L701.7,283.9 L702.6,284.0 L703.5,284.0 L704.3,284.0 L705.2,284.1 L706.1,284.1 L707.0,284.1 L707.8,284.1 L708.7,284.2 L709.6,284.2 L710.5,284.2 L711.3,284.2 L712.2,284.2 L713.1,284.3 L714.0,284.3 L714.8,284.3 L715.7,284.3 L716.6,284.4 L717.5,284.4 L718.3,284.4 L719.2,284.5 L720.1,284.5 L721.0,284.6 L721.8,284.6 L722.7,284.7 L723.6,284.7 L724.5,284.8 L725.4,284.9 L726.3,285.0 L727.1,285.1 L728.0,285.2 L728.9,285.3 L729.8,285.4 L730.7,285.6 L731.6,285.7" fill="none" stroke="#ff8000" stroke-width="1.5" stroke-linejoin="round"/>
<path d="M451.8,232.5 L452.8,232.3 L453.8,232.0 L454.8,231.8 L455.8,231.5 L456.8,231.2 L457.8,230.9 L458.7,230.6 L459.7,230.3 L460.7,230.0 L461.6,229.6 L462.6,229.3 L463.5,228.9 L464.5,228.6 L465.4,228.2 L466.3,227.8 L467.2,227.4 L468.2,227.0 L469.1,226.6 L470.0,226.1 L470.9,225.7 L471.8,225.3 L472.6,224.8 L473.5,224.3 L474.4,223.9 L475.2,223.4 L476.1,222.9 L477.0,222.4 L477.8,221.9 L478.6,221.3 L479.5,220.8 L480.3,220.3 L481.1,219.7 L481.9,219.2 L482.7,218.6 L483.5,218.0 L484.3,217.4 L485.1,216.8 L485.9,216.2 L486.6,215.6 L487.4,215.0 L488.1,214.4 L488.9,213.8 L489.6,213.1 L490.4,212.5 L491.1,211.8 L491.8,211.1 L492.5,210.5 L493.2,209.8 L493.9,209.1 L494.6,208.4 L495.3,207.7 L495.9,207.0 L496.6,206.3 L497.3,205.5 L497.9,204.8 L498.6,204.1 L499.2,203.3 L499.8,202.5 L500.4,201.8 L501.1,201.0 L501.7,200.2 L502.3,199.5 L502.8,198.7 L503.4,197.9 L504.0,197.1 L504.6,196.3 L505.1,195.4 L505.7,194.6 L506.2,193.8 L506.8,193.0 L507.3,192.1 L507.8,191.3 L508.3,190.4 L508.8,189.6 L509.3,188.7 L509.8,187.9 L510.3,187.0 L510.8,186.1 L511.3,185.2 L511.8,184.4 L512.2,183.5 L512.7,182.6 L513.1,181.7 L513.6,180.8 L514.0,179.9 L514.5,179.0 L514.9,178.1 L515.3,177.2 L515.8,176.3 L516.2,175.3 L516.6,174.4 L517.0,173.5 L517.4,172.6 L517.8,171.7 L518.2,170.7 L518.6,169.8 L519.0,168.9 L519.4,167.9 L519.8,167.0 L520.2,166.1 L520.5,165.1 L520.9,164.2 L521.3,163.2 L521.6,162.3 L522.0,161.4 L522.4,160.4 L522.7,159.5 L523.1,158.5 L523.4,157.6 L523.8,156.6 L524.1,155.7 L524.5,154.8 L524.8,153.8 L525.2,152.9 L525.5,151.9 L525.8,151.0 L526.2,150.1 L526.5,149.1 L526.8,148.2 L527.2,147.2 L527.5,146.3 L527.8,145.4 L528.1,144.5 L528.5,143.5 L528.8,142.6 L529.1,141.7 L529.4,140.7 L529.8,139.8 L530.1,138.9 L530.4,138.0 L530.7,137.1 L531.1,136.2 L531.4,135.3 L531.7,134.4 L532.0,133.5 L532.4,132.6 L532.7,131.6 L533.0,130.7 L533.3,129.8 L533.7,128.9 L534.0,128.0 L534.3,127.1 L534.6,126.2 L535.0,125.3 L535.3,124.4 L535.6,123.5 L536.0,122.6 L536.3,121.7 L536.7,120.8 L537.0,119.9 L537.3,118.9 L537.7,118.0 L538.0,117.1 L538.4,116.2 L538.7,115.2 L539.1,114.3 L539.4,113.4 L539.8,112.4 L540.2,111.5 L540.5,110.5 L540.9,109.6 L541.3,108.6 L541.6,107.6 L542.0,106.7 L542.4,105.7 L542.8,104.7 L543.2,103.7 L543.6,102.7 L544.0,101.7 L544.3,100.7 L544.8,99.7 L545.2,98.7 L545.6,97.6 L546.0,96.6 L546.4,95.6 L546.8,94.5 L547.3,93.5 L547.7,92.5 L548.2,91.5 L548.7,90.5 L549.2,89.6 L549.7,88.6 L550.2,87.7 L550.7,86.9 L551.3,86.0 L551.8,85.2 L552.4,84.4 L553.0,83.7 L553.7,83.0 L554.3,82.3 L555.0,81.7 L555.7,81.2 L556.4,80.7 L557.2,80.3 L557.9,79.9 L558.7,79.6 L559.6,79.3 L560.4,79.1 L561.2,79.0 L562.1,79.0 L563.0,79.0 L563.8,79.0 L564.7,79.1 L565.5,79.3 L566.3,79.5 L567.1,79.8 L567.9,80.2 L568.7,80.6 L569.4,81.0 L570.1,81.5 L570.7,82.1 L571.4,82.7 L572.0,83.4 L572.5,84.0 L573.1,84.8 L573.7,85.6 L574.2,86.4 L574.7,87.2 L575.2,88.1 L575.6,89.0 L576.1,89.9 L576.5,90.8 L576.9,91.8 L577.3,92.7 L577.7,93.7 L578.1,94.7 L578.5,95.7 L578.9,96.7 L579.3,97.8 L579.6,98.8 L580.0,99.8 L580.4,100.8 L580.7,101.8 L581.1,102.8 L581.4,103.8 L581.8,104.8 L582.1,105.8 L582.5,106.8 L582.8,107.8 L583.2,108.8 L583.5,109.8 L583.9,110.8 L584.2,111.8 L584.5,112.8 L584.9,113.7 L585.2,114.7 L585.5,115.7 L585.9,116.7 L586.2,117.7 L586.5,118.6 L586.9,119.6 L587.2,120.6 L587.5,121.5 L587.8,122.5 L588.1,123.4 L588.5,124.4 L588.8,125.4 L589.1,126.3 L589.4,127.3 L589.7,128.2 L590.0,129.2 L590.3,130.1 L590.6,131.1 L590.9,132.0 L591.2,133.0 L591.6,133.9 L591.9,134.9 L592.2,135.8 L592.5,136.8 L592.8,137.7 L593.1,138.6 L593.4,139.6 L593.7,140.5 L594.0,141.4 L594.2,142.4 L594.5,143.3 L594.8,144.3 L595.1,145.2 L595.4,146.1 L595.7,147.0 L596.0,148.0 L596.3,148.9 L596.6,149.8 L596.9,150.8 L597.2,151.7 L597.5,152.6 L597.8,153.6 L598.0,154.5 L598.3,155.4 L598.6,156.3 L598.9,157.3 L599.2,158.2 L599.5,159.1 L599.8,160.1 L600.1,161.0 L600.4,161.9 L600.6,162.8 L600.9,163.8 L601.2,164.7 L601.5,165.6 L601.8,166.6 L602.1,167.5 L602.4,168.4 L602.7,169.4 L603.0,170.3 L603.3,171.2 L603.6,172.2 L603.8,173.1 L604.1,174.0 L604.4,175.0 L604.7,175.9 L605.0,176.8 L605.3,177.8 L605.6,178.7 L605.9,179.6 L606.2,180.6 L606.5,181.5 L606.8,182.5 L607.1,183.4 L607.4,184.4 L607.7,185.3 L608.0,186.2 L608.3,187.2 L608.6,188.1 L608.9,189.1 L609.2,190.0 L609.6,191.0 L609.9,191.9 L610.2,192.9 L610.5,193.8 L610.8,194.8 L611.1,195.7 L611.5,196.7 L611.8,197.6 L612.1,198.6 L612.4,199.5 L612.8,200.4 L613.1,201.4 L613.4,202.3 L613.8,203.3 L614.1,204.2 L614.4,205.2 L614.8,206.1 L615.1,207.1 L615.5,208.0 L615.8,208.9 L616.2,209.9 L616.6,210.8 L616.9,211.8 L617.3,212.7 L617.6,213.6 L618.0,214.6 L618.4,215.5 L618.8,216.4 L619.1,217.3 L619.5,218.3 L619.9,219.2 L620.3,220.1 L620.7,221.0 L621.1,222.0 L621.5,222.9 L621.9,223.8 L622.3,224.7 L622.7,225.6 L623.2,226.5 L623.6,227.4 L624.0,228.3 L624.4,229.2 L624.9,230.1 L625.3,231.0 L625.8,231.9 L626.2,232.8 L626.7,233.7 L627.1,234.6 L627.6,235.5 L628.1,236.4 L628.5,237.2 L629.0,238.1 L629.5,239.0 L630.0,239.8 L630.5,240.7 L631.0,241.6 L631.5,242.4 L632.0,243.3 L632.5,244.1 L633.0,245.0 L633.6,245.8 L634.1,246.7 L634.6,247.5 L635.2,248.3 L635.7,249.1 L636.3,249.9 L636.9,250.7 L637.4,251.5 L638.0,252.3 L638.6,253.1 L639.2,253.9 L639.8,254.7 L640.4,255.4 L641.0,256.2 L641.7,257.0 L642.3,257.7 L642.9,258.4 L643.6,259.2 L644.3,259.9 L644.9,260.6 L645.6,261.3 L646.3,262.0 L647.0,262.6 L647.7,263.3 L648.4,264.0 L649.1,264.6 L649.9,265.2 L650.6,265.9 L651.4,266.5 L652.1,267.1 L652.9,267.7 L653.7,268.2 L654.5,268.8 L655.3,269.4 L656.1,269.9 L657.0,270.4 L657.8,270.9 L658.7,271.4 L659.5,271.9 L660.4,272.4 L661.3,272.8 L662.2,273.3 L663.1,273.7 L664.0,274.1 L664.9,274.5 L665.9,274.9 L666.8,275.3 L667.8,275.7 L668.7,276.0 L669.7,276.4 L670.6,276.7 L671.6,277.1 L672.6,277.4 L673.6,277.7 L674.6,278.0 L675.5,278.3 L676.5,278.5 L677.5,278.8 L678.5,279.1 L679.5,279.3 L680.5,279.6 L681.4,279.8 L682.4,280.0 L683.4,280.2 L684.4,280.4 L685.4,280.7 L686.4,280.9 L687.3,281.0 L688.3,281.2 L689.3,281.4 L690.3,281.6 L691.2,281.7 L692.2,281.9 L693.2,282.1 L694.2,282.2 L695.1,282.4 L696.1,282.5 L697.1,282.6 L698.1,282.8 L699.0,282.9 L700.0,283.0 L701.0,283.1 L702.0,283.2 L702.9,283.3 L703.9,283.4 L704.9,283.5 L705.9,283.6 L706.8,283.7 L707.8,283.8 L708.8,283.9 L709.8,284.0 L710.8,284.1 L711.7,284.1 L712.7,284.2 L713.7,284.3 L714.7,284.4 L715.7,284.4 L716.7,284.5 L717.6,284.6 L718.6,284.6 L719.6,284.7 L720.6,284.8 L721.6,284.8 L722.6,284.9 L723.6,284.9 L724.6,285.0 L725.6,285.1 L726.6,285.1 L727.6,285.2 L728.6,285.2 L729.6,285.3 L730.6,285.4 L731.6,285.4" fill="none" stroke="#808000" stroke-width="1.5" stroke-linejoin="round"/>
<path d="M452.0,240.1 L453.0,240.1 L454.0,240.0 L455.0,239.9 L456.0,239.7 L457.0,239.6 L458.0,239.5 L459.0,239.3 L460.0,239.2 L461.0,239.0 L462.0,238.8 L463.0,238.6 L464.0,238.4 L465.0,238.2 L466.0,237.9 L467.0,237.7 L468.0,237.4 L469.0,237.2 L470.0,236.9 L471.0,236.6 L472.0,236.3 L473.0,236.0 L473.9,235.7 L474.9,235.3 L475.9,235.0 L476.8,234.6 L477.8,234.2 L478.7,233.8 L479.7,233.4 L480.6,233.0 L481.6,232.6 L482.5,232.2 L483.4,231.7 L484.3,231.3 L485.2,230.8 L486.1,230.3 L487.0,229.8 L487.9,229.3 L488.7,228.8 L489.6,228.2 L490.4,227.7 L491.3,227.1 L492.1,226.6 L492.9,226.0 L493.7,225.4 L494.5,224.8 L495.3,224.2 L496.0,223.5 L496.8,222.9 L497.6,222.2 L498.3,221.6 L499.0,220.9 L499.8,220.2 L500.5,219.5 L501.2,218.8 L501.9,218.1 L502.6,217.3 L503.2,216.6 L503.9,215.9 L504.6,215.1 L505.2,214.3 L505.8,213.6 L506.5,212.8 L507.1,212.0 L507.7,211.2 L508.3,210.4 L508.9,209.6 L509.5,208.7 L510.1,207.9 L510.7,207.1 L511.2,206.2 L511.8,205.4 L512.4,204.5 L512.9,203.7 L513.4,202.8 L514.0,201.9 L514.5,201.1 L515.0,200.2 L515.5,199.3 L516.0,198.4 L516.5,197.5 L517.0,196.6 L517.5,195.7 L518.0,194.8 L518.5,193.9 L519.0,192.9 L519.4,192.0 L519.9,191.1 L520.3,190.2 L520.8,189.2 L521.2,188.3 L521.7,187.4 L522.1,186.4 L522.5,185.5 L523.0,184.5 L523.4,183.6 L523.8,182.6 L524.2,181.7 L524.6,180.8 L525.0,179.8 L525.4,178.9 L525.8,177.9 L526.2,177.0 L526.6,176.0 L527.0,175.1 L527.4,174.1 L527.8,173.2 L528.2,172.2 L528.5,171.2 L528.9,170.3 L529.3,169.3 L529.6,168.4 L530.0,167.4 L530.4,166.5 L530.7,165.5 L531.1,164.6 L531.4,163.6 L531.8,162.7 L532.1,161.7 L532.5,160.8 L532.8,159.8 L533.2,158.8 L533.5,157.9 L533.9,156.9 L534.2,156.0 L534.6,155.0 L534.9,154.1 L535.2,153.1 L535.6,152.2 L535.9,151.2 L536.2,150.2 L536.6,149.3 L536.9,148.3 L537.2,147.4 L537.6,146.4 L537.9,145.5 L538.2,144.5 L538.6,143.6 L538.9,142.6 L539.2,141.6 L539.6,140.7 L539.9,139.7 L540.2,138.8 L540.6,137.8 L540.9,136.9 L541.2,135.9 L541.6,135.0 L541.9,134.0 L542.3,133.1 L542.6,132.1 L542.9,131.2 L543.3,130.2 L543.6,129.3 L544.0,128.3 L544.3,127.4 L544.7,126.4 L545.0,125.5 L545.4,124.5 L545.7,123.6 L546.1,122.7 L546.5,121.7 L546.8,120.8 L547.2,119.8 L547.6,118.9 L547.9,117.9 L548.3,117.0 L548.7,116.1 L549.1,115.1 L549.4,114.2 L549.8,113.3 L550.2,112.3 L550.6,111.4 L551.0,110.5 L551.4,109.5 L551.8,108.6 L552.2,107.7 L552.6,106.7 L553.0,105.8 L553.4,104.9 L553.9,103.9 L554.3,103.0 L554.7,102.1 L555.2,101.2 L555.6,100.3 L556.1,99.3 L556.5,98.4 L557.0,97.5 L557.4,96.6 L557.9,95.7 L558.4,94.8 L558.9,93.8 L559.4,92.9 L559.9,92.0 L560.4,91.1 L560.9,90.2 L561.4,89.3 L562.0,88.4 L562.5,87.5 L563.1,86.6 L563.7,85.8 L564.3,84.9 L564.9,84.0 L565.6,83.1 L566.2,82.2 L566.9,81.4 L567.6,80.5 L568.3,79.6 L569.0,78.8 L569.8,77.9 L570.5,77.1 L571.3,76.4 L572.1,75.7 L572.9,75.1 L573.7,74.5 L574.4,74.1 L575.2,73.8 L576.0,73.7 L576.7,73.7 L577.5,73.9 L578.2,74.1 L578.9,74.5 L579.6,75.0 L580.3,75.6 L581.0,76.3 L581.7,77.1 L582.3,77.8 L583.0,78.7 L583.6,79.5 L584.2,80.4 L584.8,81.3 L585.4,82.1 L586.0,83.0 L586.6,83.9 L587.2,84.8 L587.7,85.7 L588.3,86.6 L588.8,87.5 L589.4,88.4 L589.9,89.3 L590.4,90.2 L590.9,91.1 L591.4,92.0 L591.9,92.9 L592.3,93.8 L592.8,94.7 L593.3,95.7 L593.7,96.6 L594.2,97.5 L594.6,98.4 L595.0,99.4 L595.4,100.3 L595.8,101.3 L596.3,102.2 L596.6,103.1 L597.0,104.1 L597.4,105.0 L597.8,106.0 L598.2,106.9 L598.5,107.9 L598.9,108.8 L599.2,109.8 L599.6,110.8 L599.9,111.7 L600.3,112.7 L600.6,113.7 L600.9,114.6 L601.2,115.6 L601.5,116.6 L601.8,117.5 L602.1,118.5 L602.4,119.5 L602.7,120.5 L603.0,121.4 L603.3,122.4 L603.6,123.4 L603.9,124.4 L604.2,125.4 L604.4,126.4 L604.7,127.3 L605.0,128.3 L605.2,129.3 L605.5,130.3 L605.8,131.3 L606.0,132.3 L606.3,133.3 L606.5,134.3 L606.8,135.2 L607.0,136.2 L607.3,137.2 L607.5,138.2 L607.8,139.2 L608.0,140.2 L608.3,141.2 L608.5,142.2 L608.8,143.2 L609.0,144.2 L609.3,145.2 L609.5,146.1 L609.7,147.1 L610.0,148.1 L610.2,149.1 L610.5,150.1 L610.7,151.1 L611.0,152.1 L611.2,153.1 L611.5,154.1 L611.7,155.0 L612.0,156.0 L612.2,157.0 L612.5,158.0 L612.8,159.0 L613.0,160.0 L613.3,160.9 L613.6,161.9 L613.8,162.9 L614.1,163.9 L614.4,164.9 L614.7,165.8 L614.9,166.8 L615.2,167.8 L615.5,168.7 L615.8,169.7 L616.1,170.7 L616.4,171.7 L616.7,172.6 L617.0,173.6 L617.3,174.6 L617.6,175.5 L617.9,176.5 L618.2,177.5 L618.5,178.4 L618.8,179.4 L619.1,180.4 L619.4,181.3 L619.7,182.3 L620.1,183.2 L620.4,184.2 L620.7,185.2 L621.0,186.1 L621.4,187.1 L621.7,188.0 L622.0,189.0 L622.3,190.0 L622.7,190.9 L623.0,191.9 L623.4,192.8 L623.7,193.8 L624.0,194.7 L624.4,195.7 L624.7,196.6 L625.1,197.6 L625.4,198.6 L625.8,199.5 L626.1,200.5 L626.5,201.4 L626.8,202.4 L627.2,203.3 L627.6,204.3 L627.9,205.2 L628.3,206.2 L628.6,207.1 L629.0,208.1 L629.4,209.1 L629.7,210.0 L630.1,211.0 L630.5,211.9 L630.9,212.9 L631.2,213.8 L631.6,214.8 L632.0,215.7 L632.4,216.7 L632.7,217.6 L633.1,218.6 L633.5,219.6 L633.9,220.5 L634.3,221.5 L634.7,222.4 L635.0,223.4 L635.4,224.3 L635.8,225.3 L636.2,226.2 L636.6,227.2 L637.0,228.1 L637.4,229.1 L637.8,230.0 L638.2,231.0 L638.7,231.9 L639.1,232.9 L639.5,233.8 L639.9,234.7 L640.4,235.7 L640.8,236.6 L641.3,237.5 L641.7,238.4 L642.2,239.4 L642.6,240.3 L643.1,241.2 L643.6,242.1 L644.1,243.0 L644.6,243.9 L645.1,244.7 L645.6,245.6 L646.1,246.5 L646.6,247.4 L647.2,248.2 L647.7,249.1 L648.3,249.9 L648.8,250.8 L649.4,251.6 L650.0,252.4 L650.6,253.2 L651.2,254.0 L651.8,254.8 L652.4,255.6 L653.0,256.4 L653.7,257.2 L654.3,258.0 L655.0,258.7 L655.7,259.5 L656.4,260.2 L657.1,260.9 L657.8,261.6 L658.5,262.3 L659.2,263.0 L660.0,263.7 L660.7,264.4 L661.5,265.1 L662.3,265.7 L663.0,266.4 L663.8,267.0 L664.6,267.6 L665.4,268.2 L666.2,268.8 L667.1,269.4 L667.9,270.0 L668.7,270.5 L669.6,271.1 L670.4,271.6 L671.3,272.1 L672.2,272.7 L673.0,273.2 L673.9,273.6 L674.8,274.1 L675.7,274.6 L676.6,275.0 L677.5,275.4 L678.5,275.9 L679.4,276.3 L680.3,276.7 L681.3,277.0 L682.2,277.4 L683.2,277.7 L684.1,278.1 L685.1,278.4 L686.1,278.7 L687.1,279.0 L688.0,279.3 L689.0,279.6 L690.0,279.8 L691.0,280.1 L692.0,280.3 L693.0,280.5 L694.0,280.8 L695.0,281.0 L696.1,281.2 L697.1,281.4 L698.1,281.6 L699.1,281.7 L700.1,281.9 L701.2,282.1 L702.2,282.2 L703.2,282.4 L704.2,282.5 L705.3,282.7 L706.3,282.8 L707.3,282.9 L708.3,283.0 L709.4,283.2 L710.4,283.3 L711.4,283.4 L712.5,283.5 L713.5,283.6 L714.5,283.7 L715.5,283.8 L716.6,283.9 L717.6,284.0 L718.6,284.1 L719.6,284.2 L720.6,284.3 L721.6,284.4 L722.6,284.5 L723.6,284.6 L724.6,284.6 L725.6,284.7 L726.6,284.8 L727.6,284.9 L728.6,285.0 L729.6,285.1 L730.5,285.2 L731.5,285.4" fill="none" stroke="#00ff00" stroke-width="1.5" stroke-linejoin="round"/>
<path d="M451.7,245.1 L452.8,245.1 L453.9,245.1 L455.0,245.1 L456.0,245.1 L457.1,245.1 L458.2,245.0 L459.3,245.0 L460.3,244.9 L461.4,244.8 L462.4,244.7 L463.5,244.6 L464.5,244.4 L465.6,244.3 L466.6,244.1 L467.6,243.9 L468.7,243.7 L469.7,243.5 L470.7,243.3 L471.7,243.1 L472.7,242.8 L473.7,242.5 L474.7,242.3 L475.7,242.0 L476.7,241.7 L477.7,241.3 L478.7,241.0 L479.6,240.7 L480.6,240.3 L481.6,239.9 L482.5,239.5 L483.5,239.1 L484.4,238.7 L485.3,238.3 L486.3,237.9 L487.2,237.4 L488.1,237.0 L489.0,236.5 L489.9,236.0 L490.8,235.5 L491.7,235.0 L492.6,234.5 L493.5,234.0 L494.4,233.5 L495.2,232.9 L496.1,232.4 L496.9,231.8 L497.8,231.2 L498.6,230.6 L499.4,230.0 L500.2,229.4 L501.1,228.8 L501.9,228.2 L502.7,227.5 L503.4,226.9 L504.2,226.2 L505.0,225.6 L505.8,224.9 L506.5,224.2 L507.3,223.5 L508.0,222.8 L508.7,222.1 L509.5,221.4 L510.2,220.7 L510.9,219.9 L511.6,219.2 L512.3,218.4 L513.0,217.7 L513.6,216.9 L514.3,216.1 L515.0,215.3 L515.6,214.5 L516.2,213.7 L516.9,212.9 L517.5,212.1 L518.1,211.3 L518.7,210.5 L519.3,209.6 L519.9,208.8 L520.4,208.0 L521.0,207.1 L521.5,206.2 L522.1,205.4 L522.6,204.5 L523.1,203.6 L523.7,202.7 L524.2,201.9 L524.7,201.0 L525.2,200.1 L525.7,199.2 L526.1,198.2 L526.6,197.3 L527.1,196.4 L527.5,195.5 L528.0,194.6 L528.4,193.6 L528.9,192.7 L529.3,191.7 L529.7,190.8 L530.1,189.9 L530.6,188.9 L531.0,187.9 L531.4,187.0 L531.8,186.0 L532.2,185.1 L532.6,184.1 L532.9,183.1 L533.3,182.1 L533.7,181.2 L534.1,180.2 L534.4,179.2 L534.8,178.2 L535.2,177.2 L535.5,176.2 L535.9,175.3 L536.2,174.3 L536.6,173.3 L536.9,172.3 L537.3,171.3 L537.6,170.3 L537.9,169.3 L538.3,168.3 L538.6,167.3 L538.9,166.3 L539.3,165.3 L539.6,164.3 L539.9,163.3 L540.3,162.3 L540.6,161.3 L540.9,160.3 L541.3,159.3 L541.6,158.3 L541.9,157.3 L542.2,156.3 L542.6,155.3 L542.9,154.3 L543.2,153.3 L543.5,152.3 L543.9,151.3 L544.2,150.3 L544.5,149.3 L544.9,148.3 L545.2,147.3 L545.5,146.3 L545.9,145.3 L546.2,144.4 L546.6,143.4 L546.9,142.4 L547.3,141.4 L547.6,140.5 L548.0,139.5 L548.3,138.5 L548.7,137.6 L549.0,136.6 L549.4,135.7 L549.8,134.7 L550.2,133.7 L550.5,132.8 L550.9,131.8 L551.3,130.9 L551.7,130.0 L552.0,129.0 L552.4,128.1 L552.8,127.1 L553.2,126.2 L553.6,125.3 L554.0,124.3 L554.4,123.4 L554.7,122.4 L555.1,121.5 L555.5,120.6 L555.9,119.6 L556.3,118.7 L556.7,117.8 L557.1,116.8 L557.5,115.9 L557.8,114.9 L558.2,114.0 L558.6,113.1 L559.0,112.1 L559.4,111.2 L559.8,110.2 L560.1,109.3 L560.5,108.3 L560.9,107.4 L561.3,106.4 L561.6,105.5 L562.0,104.5 L562.4,103.6 L562.7,102.6 L563.1,101.7 L563.4,100.7 L563.8,99.7 L564.1,98.8 L564.5,97.8 L564.8,96.8 L565.2,95.8 L565.6,94.8 L565.9,93.9 L566.3,92.9 L566.7,91.9 L567.1,90.9 L567.5,90.0 L567.9,89.0 L568.4,88.0 L568.8,87.0 L569.3,86.1 L569.8,85.1 L570.3,84.2 L570.9,83.2 L571.4,82.3 L572.0,81.3 L572.7,80.4 L573.3,79.5 L574.0,78.6 L574.8,77.7 L575.5,76.8 L576.3,76.0 L577.1,75.2 L577.9,74.4 L578.8,73.7 L579.6,73.1 L580.5,72.6 L581.3,72.1 L582.2,71.7 L583.1,71.5 L583.9,71.3 L584.8,71.3 L585.7,71.3 L586.5,71.6 L587.3,71.9 L588.1,72.3 L588.9,72.9 L589.7,73.5 L590.5,74.2 L591.2,74.9 L592.0,75.8 L592.7,76.6 L593.3,77.5 L594.0,78.5 L594.6,79.4 L595.2,80.4 L595.7,81.3 L596.3,82.3 L596.8,83.3 L597.2,84.2 L597.7,85.2 L598.1,86.1 L598.5,87.1 L598.9,88.1 L599.3,89.1 L599.7,90.0 L600.0,91.0 L600.4,92.0 L600.7,93.0 L601.0,94.0 L601.3,94.9 L601.6,95.9 L601.9,96.9 L602.2,97.9 L602.5,98.9 L602.7,99.9 L603.0,100.9 L603.3,101.8 L603.6,102.8 L603.9,103.8 L604.2,104.8 L604.5,105.8 L604.8,106.8 L605.1,107.8 L605.3,108.8 L605.6,109.8 L605.9,110.7 L606.2,111.7 L606.5,112.7 L606.8,113.7 L607.1,114.7 L607.4,115.7 L607.7,116.7 L608.0,117.7 L608.3,118.7 L608.6,119.7 L608.9,120.7 L609.2,121.7 L609.5,122.6 L609.7,123.6 L610.0,124.6 L610.3,125.6 L610.6,126.6 L610.9,127.6 L611.2,128.6 L611.5,129.6 L611.8,130.6 L612.1,131.6 L612.4,132.6 L612.7,133.6 L613.0,134.6 L613.3,135.6 L613.5,136.6 L613.8,137.5 L614.1,138.5 L614.4,139.5 L614.7,140.5 L615.0,141.5 L615.3,142.5 L615.6,143.5 L615.8,144.5 L616.1,145.5 L616.4,146.5 L616.7,147.5 L617.0,148.5 L617.2,149.5 L617.5,150.5 L617.8,151.5 L618.1,152.4 L618.4,153.4 L618.7,154.4 L618.9,155.4 L619.2,156.4 L619.5,157.4 L619.8,158.4 L620.1,159.4 L620.3,160.4 L620.6,161.4 L620.9,162.4 L621.2,163.4 L621.5,164.3 L621.7,165.3 L622.0,166.3 L622.3,167.3 L622.6,168.3 L622.9,169.3 L623.2,170.3 L623.5,171.3 L623.8,172.3 L624.0,173.2 L624.3,174.2 L624.6,175.2 L624.9,176.2 L625.2,177.2 L625.5,178.2 L625.8,179.2 L626.1,180.2 L626.4,181.1 L626.7,182.1 L627.0,183.1 L627.3,184.1 L627.6,185.1 L627.9,186.1 L628.2,187.0 L628.6,188.0 L628.9,189.0 L629.2,190.0 L629.5,191.0 L629.8,191.9 L630.1,192.9 L630.5,193.9 L630.8,194.9 L631.1,195.9 L631.5,196.8 L631.8,197.8 L632.1,198.8 L632.5,199.8 L632.8,200.7 L633.2,201.7 L633.5,202.7 L633.8,203.7 L634.2,204.6 L634.6,205.6 L634.9,206.6 L635.3,207.6 L635.6,208.5 L636.0,209.5 L636.4,210.5 L636.8,211.4 L637.1,212.4 L637.5,213.4 L637.9,214.3 L638.3,215.3 L638.7,216.3 L639.1,217.2 L639.5,218.2 L639.9,219.2 L640.3,220.1 L640.7,221.1 L641.1,222.0 L641.5,223.0 L641.9,224.0 L642.4,224.9 L642.8,225.9 L643.2,226.8 L643.7,227.8 L644.1,228.7 L644.6,229.7 L645.0,230.6 L645.5,231.6 L645.9,232.5 L646.4,233.4 L646.9,234.4 L647.4,235.3 L647.9,236.2 L648.4,237.1 L648.8,238.0 L649.4,239.0 L649.9,239.9 L650.4,240.8 L650.9,241.7 L651.4,242.5 L652.0,243.4 L652.5,244.3 L653.1,245.2 L653.6,246.0 L654.2,246.9 L654.8,247.8 L655.3,248.6 L655.9,249.5 L656.5,250.3 L657.1,251.1 L657.7,251.9 L658.3,252.7 L659.0,253.6 L659.6,254.3 L660.2,255.1 L660.9,255.9 L661.5,256.7 L662.2,257.5 L662.9,258.2 L663.6,259.0 L664.3,259.7 L665.0,260.4 L665.7,261.1 L666.4,261.8 L667.1,262.5 L667.9,263.2 L668.6,263.9 L669.4,264.6 L670.1,265.2 L670.9,265.9 L671.7,266.5 L672.5,267.1 L673.3,267.7 L674.1,268.3 L675.0,268.9 L675.8,269.5 L676.7,270.0 L677.5,270.6 L678.4,271.1 L679.3,271.6 L680.2,272.1 L681.1,272.6 L682.0,273.1 L682.9,273.6 L683.9,274.0 L684.8,274.5 L685.8,274.9 L686.7,275.3 L687.7,275.8 L688.7,276.1 L689.7,276.5 L690.7,276.9 L691.7,277.3 L692.7,277.6 L693.7,278.0 L694.7,278.3 L695.7,278.6 L696.8,278.9 L697.8,279.2 L698.8,279.5 L699.9,279.8 L700.9,280.1 L701.9,280.3 L703.0,280.6 L704.0,280.8 L705.1,281.0 L706.1,281.3 L707.2,281.5 L708.2,281.7 L709.3,281.9 L710.3,282.1 L711.4,282.2 L712.4,282.4 L713.5,282.6 L714.5,282.7 L715.5,282.9 L716.6,283.0 L717.6,283.2 L718.6,283.3 L719.6,283.4 L720.7,283.5 L721.7,283.6 L722.7,283.8 L723.7,283.9 L724.7,283.9 L725.7,284.0 L726.6,284.1 L727.6,284.2 L728.6,284.3 L729.5,284.3 L730.5,284.4 L731.4,284.4" fill="none" stroke="#0000ff" stroke-width="1.5" stroke-linejoin="round"/>
<path d="M452.1,250.2 L453.1,250.2 L454.2,250.2 L455.2,250.1 L456.3,250.1 L457.3,250.1 L458.4,250.0 L459.5,249.9 L460.5,249.8 L461.6,249.7 L462.7,249.6 L463.8,249.5 L464.9,249.4 L465.9,249.2 L467.0,249.1 L468.1,248.9 L469.2,248.7 L470.3,248.5 L471.4,248.3 L472.5,248.1 L473.5,247.9 L474.6,247.6 L475.7,247.4 L476.8,247.1 L477.9,246.8 L478.9,246.5 L480.0,246.2 L481.1,245.9 L482.2,245.6 L483.2,245.2 L484.3,244.9 L485.3,244.5 L486.4,244.1 L487.4,243.7 L488.5,243.3 L489.5,242.9 L490.5,242.5 L491.6,242.0 L492.6,241.6 L493.6,241.1 L494.6,240.7 L495.6,240.2 L496.6,239.7 L497.6,239.2 L498.5,238.6 L499.5,238.1 L500.5,237.5 L501.4,237.0 L502.3,236.4 L503.3,235.8 L504.2,235.2 L505.1,234.6 L506.0,234.0 L506.9,233.4 L507.7,232.7 L508.6,232.1 L509.5,231.4 L510.3,230.7 L511.1,230.0 L511.9,229.3 L512.7,228.6 L513.5,227.9 L514.3,227.1 L515.1,226.4 L515.8,225.6 L516.5,224.8 L517.3,224.0 L518.0,223.2 L518.7,222.4 L519.4,221.6 L520.0,220.8 L520.7,219.9 L521.4,219.1 L522.0,218.2 L522.6,217.4 L523.3,216.5 L523.9,215.6 L524.5,214.7 L525.1,213.8 L525.6,212.9 L526.2,212.0 L526.8,211.1 L527.3,210.1 L527.9,209.2 L528.4,208.3 L529.0,207.3 L529.5,206.4 L530.0,205.4 L530.5,204.4 L531.0,203.5 L531.5,202.5 L532.0,201.5 L532.5,200.5 L532.9,199.5 L533.4,198.5 L533.9,197.5 L534.3,196.5 L534.8,195.5 L535.2,194.5 L535.7,193.5 L536.1,192.4 L536.5,191.4 L537.0,190.4 L537.4,189.4 L537.8,188.3 L538.2,187.3 L538.6,186.3 L539.0,185.2 L539.4,184.2 L539.8,183.2 L540.2,182.1 L540.6,181.1 L541.0,180.1 L541.4,179.0 L541.8,178.0 L542.2,176.9 L542.5,175.9 L542.9,174.9 L543.3,173.8 L543.7,172.8 L544.0,171.7 L544.4,170.7 L544.8,169.7 L545.2,168.6 L545.5,167.6 L545.9,166.6 L546.3,165.5 L546.6,164.5 L547.0,163.4 L547.3,162.4 L547.7,161.4 L548.1,160.3 L548.4,159.3 L548.8,158.3 L549.1,157.2 L549.5,156.2 L549.8,155.1 L550.2,154.1 L550.5,153.1 L550.9,152.0 L551.2,151.0 L551.6,150.0 L551.9,148.9 L552.3,147.9 L552.6,146.8 L553.0,145.8 L553.3,144.8 L553.7,143.7 L554.0,142.7 L554.4,141.7 L554.7,140.6 L555.1,139.6 L555.4,138.6 L555.7,137.5 L556.1,136.5 L556.4,135.4 L556.8,134.4 L557.1,133.4 L557.5,132.3 L557.8,131.3 L558.2,130.3 L558.5,129.2 L558.9,128.2 L559.2,127.2 L559.6,126.2 L559.9,125.1 L560.3,124.1 L560.6,123.1 L561.0,122.0 L561.4,121.0 L561.7,120.0 L562.1,118.9 L562.4,117.9 L562.8,116.9 L563.2,115.8 L563.5,114.8 L563.9,113.8 L564.2,112.8 L564.6,111.7 L565.0,110.7 L565.4,109.7 L565.7,108.7 L566.1,107.6 L566.5,106.6 L566.9,105.6 L567.2,104.6 L567.6,103.5 L568.0,102.5 L568.4,101.5 L568.8,100.5 L569.2,99.4 L569.6,98.4 L570.0,97.4 L570.4,96.4 L570.8,95.3 L571.2,94.3 L571.6,93.3 L572.0,92.3 L572.4,91.3 L572.8,90.2 L573.2,89.2 L573.6,88.2 L574.0,87.2 L574.5,86.2 L574.9,85.1 L575.3,84.1 L575.7,83.1 L576.1,82.1 L576.6,81.1 L577.0,80.1 L577.4,79.0 L577.9,78.0 L578.3,77.0 L578.7,76.0 L579.1,75.0 L579.6,73.9 L580.0,72.9 L580.5,71.9 L580.9,70.9 L581.3,69.8 L581.8,68.8 L582.2,67.8 L582.7,66.8 L583.1,65.8 L583.6,64.8 L584.2,63.8 L584.7,62.9 L585.3,61.9 L586.0,61.0 L586.7,60.1 L587.5,59.3 L588.3,58.5 L589.2,57.8 L590.1,57.1 L591.0,56.6 L591.9,56.2 L592.9,56.0 L593.9,56.0 L594.8,56.1 L595.8,56.4 L596.7,56.9 L597.6,57.5 L598.4,58.2 L599.3,58.9 L600.0,59.8 L600.8,60.6 L601.4,61.5 L602.1,62.5 L602.7,63.4 L603.2,64.4 L603.7,65.4 L604.2,66.4 L604.7,67.4 L605.1,68.4 L605.6,69.4 L606.0,70.5 L606.4,71.5 L606.8,72.6 L607.1,73.6 L607.5,74.7 L607.9,75.7 L608.2,76.8 L608.5,77.8 L608.9,78.9 L609.2,79.9 L609.5,81.0 L609.8,82.1 L610.1,83.1 L610.4,84.2 L610.7,85.3 L610.9,86.3 L611.2,87.4 L611.5,88.5 L611.8,89.5 L612.0,90.6 L612.3,91.7 L612.5,92.7 L612.8,93.8 L613.0,94.9 L613.3,96.0 L613.5,97.0 L613.8,98.1 L614.0,99.2 L614.3,100.2 L614.6,101.3 L614.8,102.4 L615.1,103.4 L615.3,104.5 L615.6,105.6 L615.8,106.6 L616.1,107.7 L616.4,108.8 L616.6,109.8 L616.9,110.9 L617.2,111.9 L617.4,113.0 L617.7,114.1 L618.0,115.1 L618.2,116.2 L618.5,117.2 L618.8,118.3 L619.0,119.3 L619.3,120.4 L619.6,121.4 L619.9,122.5 L620.1,123.6 L620.4,124.6 L620.7,125.7 L621.0,126.7 L621.2,127.8 L621.5,128.8 L621.8,129.9 L622.1,130.9 L622.4,132.0 L622.7,133.0 L622.9,134.1 L623.2,135.1 L623.5,136.1 L623.8,137.2 L624.1,138.2 L624.4,139.3 L624.7,140.3 L625.0,141.4 L625.3,142.4 L625.5,143.5 L625.8,144.5 L626.1,145.6 L626.4,146.6 L626.7,147.7 L627.0,148.7 L627.3,149.8 L627.6,150.8 L627.9,151.9 L628.2,152.9 L628.5,154.0 L628.8,155.0 L629.1,156.1 L629.4,157.1 L629.7,158.2 L630.0,159.2 L630.3,160.3 L630.6,161.3 L630.9,162.4 L631.2,163.4 L631.5,164.5 L631.8,165.5 L632.1,166.6 L632.4,167.6 L632.7,168.7 L633.0,169.7 L633.3,170.8 L633.6,171.9 L633.9,172.9 L634.2,174.0 L634.5,175.0 L634.8,176.1 L635.1,177.1 L635.4,178.2 L635.7,179.3 L636.0,180.3 L636.3,181.4 L636.6,182.5 L636.9,183.5 L637.2,184.6 L637.5,185.7 L637.9,186.7 L638.2,187.8 L638.5,188.9 L638.8,189.9 L639.1,191.0 L639.4,192.1 L639.7,193.1 L640.0,194.2 L640.4,195.3 L640.7,196.3 L641.0,197.4 L641.3,198.5 L641.6,199.5 L642.0,200.6 L642.3,201.6 L642.6,202.7 L643.0,203.8 L643.3,204.8 L643.7,205.9 L644.0,206.9 L644.4,208.0 L644.7,209.0 L645.1,210.1 L645.4,211.1 L645.8,212.2 L646.2,213.2 L646.6,214.3 L646.9,215.3 L647.3,216.3 L647.7,217.4 L648.1,218.4 L648.5,219.4 L648.9,220.4 L649.3,221.5 L649.7,222.5 L650.1,223.5 L650.6,224.5 L651.0,225.5 L651.4,226.5 L651.9,227.5 L652.3,228.5 L652.8,229.5 L653.2,230.5 L653.7,231.5 L654.2,232.5 L654.6,233.4 L655.1,234.4 L655.6,235.4 L656.1,236.4 L656.6,237.3 L657.2,238.3 L657.7,239.2 L658.2,240.2 L658.7,241.1 L659.3,242.0 L659.8,243.0 L660.4,243.9 L661.0,244.8 L661.6,245.7 L662.1,246.6 L662.7,247.5 L663.4,248.4 L664.0,249.3 L664.6,250.2 L665.2,251.1 L665.9,251.9 L666.5,252.8 L667.2,253.7 L667.8,254.5 L668.5,255.4 L669.2,256.2 L669.9,257.0 L670.6,257.9 L671.4,258.7 L672.1,259.5 L672.8,260.3 L673.6,261.1 L674.3,261.8 L675.1,262.6 L675.9,263.4 L676.7,264.1 L677.5,264.9 L678.3,265.6 L679.1,266.3 L680.0,267.0 L680.8,267.7 L681.6,268.3 L682.5,269.0 L683.4,269.7 L684.3,270.3 L685.2,270.9 L686.1,271.5 L687.0,272.1 L687.9,272.7 L688.9,273.2 L689.8,273.7 L690.8,274.3 L691.7,274.8 L692.7,275.2 L693.7,275.7 L694.7,276.1 L695.7,276.6 L696.8,277.0 L697.8,277.4 L698.8,277.7 L699.9,278.1 L701.0,278.4 L702.0,278.7 L703.1,279.0 L704.2,279.3 L705.3,279.5 L706.4,279.8 L707.5,280.0 L708.7,280.2 L709.8,280.4 L710.9,280.6 L712.0,280.8 L713.2,280.9 L714.3,281.1 L715.4,281.2 L716.5,281.4 L717.6,281.5 L718.8,281.7 L719.9,281.8 L721.0,281.9 L722.1,282.1 L723.2,282.2 L724.3,282.3 L725.3,282.5 L726.4,282.6 L727.4,282.8 L728.5,282.9 L729.5,283.1 L730.5,283.2 L731.5,283.4" fill="none" stroke="#000000" stroke-width="1.5" stroke-linejoin="round"/>
<path d="M452.0,250.7 L453.1,250.7 L454.2,250.7 L455.3,250.6 L456.4,250.6 L457.4,250.5 L458.5,250.5 L459.6,250.4 L460.7,250.3 L461.8,250.2 L462.9,250.0 L464.0,249.9 L465.1,249.8 L466.2,249.6 L467.2,249.4 L468.3,249.2 L469.4,249.0 L470.5,248.8 L471.6,248.6 L472.7,248.4 L473.8,248.1 L474.9,247.8 L475.9,247.6 L477.0,247.3 L478.1,247.0 L479.2,246.6 L480.2,246.3 L481.3,246.0 L482.4,245.6 L483.4,245.2 L484.5,244.9 L485.5,244.5 L486.5,244.1 L487.6,243.6 L488.6,243.2 L489.6,242.8 L490.6,242.3 L491.7,241.8 L492.7,241.3 L493.7,240.8 L494.6,240.3 L495.6,239.8 L496.6,239.3 L497.5,238.7 L498.5,238.1 L499.4,237.6 L500.4,237.0 L501.3,236.4 L502.2,235.7 L503.1,235.1 L504.0,234.5 L504.9,233.8 L505.8,233.2 L506.6,232.5 L507.5,231.8 L508.3,231.1 L509.1,230.3 L509.9,229.6 L510.7,228.9 L511.5,228.1 L512.3,227.3 L513.1,226.6 L513.8,225.8 L514.5,225.0 L515.3,224.1 L516.0,223.3 L516.7,222.5 L517.4,221.6 L518.0,220.8 L518.7,219.9 L519.4,219.0 L520.0,218.1 L520.6,217.3 L521.3,216.4 L521.9,215.4 L522.5,214.5 L523.1,213.6 L523.6,212.7 L524.2,211.8 L524.8,210.8 L525.3,209.9 L525.9,208.9 L526.4,208.0 L526.9,207.0 L527.5,206.1 L528.0,205.1 L528.5,204.1 L529.0,203.1 L529.4,202.2 L529.9,201.2 L530.4,200.2 L530.9,199.2 L531.3,198.2 L531.8,197.2 L532.2,196.2 L532.7,195.2 L533.1,194.2 L533.5,193.2 L533.9,192.2 L534.4,191.2 L534.8,190.2 L535.2,189.1 L535.6,188.1 L536.0,187.1 L536.4,186.1 L536.8,185.0 L537.2,184.0 L537.6,183.0 L537.9,181.9 L538.3,180.9 L538.7,179.9 L539.1,178.8 L539.5,177.8 L539.8,176.7 L540.2,175.7 L540.6,174.7 L540.9,173.6 L541.3,172.6 L541.7,171.5 L542.0,170.5 L542.4,169.4 L542.7,168.4 L543.1,167.3 L543.4,166.3 L543.8,165.2 L544.1,164.2 L544.5,163.1 L544.8,162.1 L545.2,161.0 L545.5,160.0 L545.9,158.9 L546.2,157.8 L546.5,156.8 L546.9,155.7 L547.2,154.7 L547.6,153.6 L547.9,152.6 L548.3,151.5 L548.6,150.5 L548.9,149.4 L549.3,148.3 L549.6,147.3 L549.9,146.2 L550.3,145.2 L550.6,144.1 L551.0,143.0 L551.3,142.0 L551.6,140.9 L552.0,139.9 L552.3,138.8 L552.6,137.8 L553.0,136.7 L553.3,135.7 L553.7,134.6 L554.0,133.5 L554.4,132.5 L554.7,131.4 L555.0,130.4 L555.4,129.3 L555.7,128.3 L556.1,127.2 L556.4,126.2 L556.8,125.1 L557.1,124.1 L557.5,123.1 L557.8,122.0 L558.2,121.0 L558.5,119.9 L558.9,118.9 L559.3,117.8 L559.6,116.8 L560.0,115.8 L560.4,114.7 L560.7,113.7 L561.1,112.7 L561.5,111.6 L561.8,110.6 L562.2,109.6 L562.6,108.5 L563.0,107.5 L563.4,106.5 L563.8,105.5 L564.2,104.4 L564.5,103.4 L564.9,102.4 L565.3,101.4 L565.7,100.4 L566.2,99.4 L566.6,98.4 L567.0,97.4 L567.4,96.4 L567.8,95.3 L568.2,94.3 L568.6,93.3 L569.1,92.3 L569.5,91.3 L569.9,90.3 L570.4,89.3 L570.8,88.3 L571.2,87.3 L571.7,86.3 L572.1,85.3 L572.6,84.3 L573.0,83.3 L573.4,82.2 L573.9,81.2 L574.3,80.2 L574.8,79.2 L575.2,78.1 L575.7,77.1 L576.1,76.1 L576.6,75.0 L577.1,74.0 L577.5,72.9 L578.0,71.8 L578.4,70.8 L578.9,69.7 L579.3,68.6 L579.8,67.5 L580.3,66.5 L580.8,65.4 L581.3,64.3 L581.8,63.3 L582.4,62.3 L582.9,61.3 L583.6,60.3 L584.2,59.4 L584.9,58.5 L585.7,57.6 L586.4,56.9 L587.2,56.1 L588.1,55.5 L588.9,54.9 L589.8,54.5 L590.7,54.1 L591.6,53.8 L592.5,53.7 L593.4,53.7 L594.2,53.8 L595.1,54.1 L596.0,54.4 L596.8,54.9 L597.7,55.4 L598.5,56.1 L599.3,56.8 L600.0,57.6 L600.7,58.5 L601.4,59.4 L602.0,60.3 L602.5,61.3 L603.1,62.4 L603.6,63.4 L604.0,64.5 L604.5,65.6 L604.9,66.7 L605.3,67.8 L605.7,68.9 L606.1,70.0 L606.5,71.1 L606.8,72.3 L607.2,73.4 L607.6,74.4 L608.0,75.5 L608.3,76.6 L608.7,77.7 L609.0,78.8 L609.4,79.8 L609.7,80.9 L610.1,82.0 L610.4,83.0 L610.8,84.1 L611.1,85.1 L611.5,86.2 L611.8,87.2 L612.1,88.3 L612.5,89.3 L612.8,90.4 L613.1,91.4 L613.4,92.4 L613.8,93.5 L614.1,94.5 L614.4,95.6 L614.7,96.6 L615.0,97.6 L615.3,98.7 L615.6,99.7 L615.9,100.8 L616.3,101.8 L616.6,102.9 L616.9,103.9 L617.2,105.0 L617.5,106.0 L617.8,107.1 L618.1,108.1 L618.4,109.2 L618.7,110.2 L619.0,111.3 L619.3,112.3 L619.6,113.4 L619.8,114.4 L620.1,115.5 L620.4,116.5 L620.7,117.6 L621.0,118.7 L621.3,119.7 L621.6,120.8 L621.9,121.8 L622.2,122.9 L622.4,124.0 L622.7,125.0 L623.0,126.1 L623.3,127.2 L623.6,128.2 L623.9,129.3 L624.1,130.4 L624.4,131.4 L624.7,132.5 L625.0,133.6 L625.3,134.7 L625.6,135.7 L625.8,136.8 L626.1,137.9 L626.4,138.9 L626.7,140.0 L627.0,141.1 L627.2,142.2 L627.5,143.2 L627.8,144.3 L628.1,145.4 L628.4,146.4 L628.6,147.5 L628.9,148.6 L629.2,149.7 L629.5,150.7 L629.8,151.8 L630.1,152.9 L630.3,154.0 L630.6,155.0 L630.9,156.1 L631.2,157.2 L631.5,158.3 L631.8,159.3 L632.0,160.4 L632.3,161.5 L632.6,162.5 L632.9,163.6 L633.2,164.7 L633.5,165.8 L633.8,166.8 L634.1,167.9 L634.4,169.0 L634.7,170.0 L634.9,171.1 L635.2,172.2 L635.5,173.3 L635.8,174.3 L636.1,175.4 L636.4,176.5 L636.7,177.5 L637.0,178.6 L637.3,179.7 L637.6,180.7 L638.0,181.8 L638.3,182.9 L638.6,183.9 L638.9,185.0 L639.2,186.0 L639.5,187.1 L639.8,188.2 L640.1,189.2 L640.5,190.3 L640.8,191.3 L641.1,192.4 L641.4,193.5 L641.8,194.5 L642.1,195.6 L642.4,196.6 L642.8,197.7 L643.1,198.7 L643.5,199.8 L643.8,200.8 L644.2,201.9 L644.5,202.9 L644.9,203.9 L645.2,205.0 L645.6,206.0 L645.9,207.1 L646.3,208.1 L646.7,209.1 L647.0,210.2 L647.4,211.2 L647.8,212.3 L648.2,213.3 L648.6,214.3 L649.0,215.3 L649.4,216.4 L649.8,217.4 L650.2,218.4 L650.6,219.4 L651.0,220.5 L651.4,221.5 L651.8,222.5 L652.2,223.5 L652.7,224.5 L653.1,225.5 L653.5,226.6 L654.0,227.6 L654.4,228.6 L654.9,229.6 L655.4,230.6 L655.8,231.6 L656.3,232.6 L656.8,233.6 L657.2,234.6 L657.7,235.6 L658.2,236.5 L658.7,237.5 L659.2,238.5 L659.7,239.5 L660.2,240.5 L660.7,241.5 L661.3,242.4 L661.8,243.4 L662.3,244.4 L662.9,245.4 L663.4,246.3 L664.0,247.3 L664.5,248.2 L665.1,249.2 L665.7,250.2 L666.2,251.1 L666.8,252.1 L667.4,253.0 L668.0,254.0 L668.6,254.9 L669.2,255.9 L669.9,256.8 L670.5,257.7 L671.1,258.6 L671.8,259.6 L672.4,260.5 L673.1,261.3 L673.8,262.2 L674.5,263.1 L675.2,263.9 L676.0,264.7 L676.7,265.5 L677.5,266.3 L678.3,267.0 L679.1,267.7 L680.0,268.4 L680.8,269.1 L681.7,269.7 L682.6,270.3 L683.6,270.8 L684.5,271.4 L685.5,271.9 L686.5,272.4 L687.5,272.8 L688.5,273.3 L689.5,273.7 L690.6,274.1 L691.6,274.5 L692.7,274.9 L693.7,275.3 L694.8,275.6 L695.9,276.0 L696.9,276.3 L698.0,276.7 L699.1,277.0 L700.2,277.3 L701.3,277.6 L702.3,278.0 L703.4,278.3 L704.5,278.6 L705.6,278.9 L706.6,279.2 L707.7,279.5 L708.8,279.8 L709.8,280.1 L710.9,280.3 L712.0,280.6 L713.1,280.9 L714.1,281.1 L715.2,281.3 L716.3,281.6 L717.4,281.8 L718.4,282.0 L719.5,282.2 L720.6,282.4 L721.7,282.5 L722.8,282.7 L723.9,282.8 L725.0,282.9 L726.1,283.0 L727.2,283.1 L728.3,283.2 L729.4,283.3 L730.5,283.3 L731.6,283.3" fill="none" stroke="#ff0000" stroke-width="1.5" stroke-linejoin="round"/>
<rect x="432.6" y="6.0" width="338.5" height="282.7" fill="none" stroke="#333333" stroke-width="1.5"/>
<line x1="427.00" y1="288.70" x2="432.60" y2="288.70" stroke="#333333" stroke-width="1.3"/>
<line x1="429.60" y1="257.29" x2="432.60" y2="257.29" stroke="#333333" stroke-width="1.3"/>
<line x1="427.00" y1="225.88" x2="432.60" y2="225.88" stroke="#333333" stroke-width="1.3"/>
<line x1="429.60" y1="194.47" x2="432.60" y2="194.47" stroke="#333333" stroke-width="1.3"/>
<line x1="427.00" y1="163.06" x2="432.60" y2="163.06" stroke="#333333" stroke-width="1.3"/>
<line x1="429.60" y1="131.64" x2="432.60" y2="131.64" stroke="#333333" stroke-width="1.3"/>
<line x1="427.00" y1="100.23" x2="432.60" y2="100.23" stroke="#333333" stroke-width="1.3"/>
<line x1="429.60" y1="68.82" x2="432.60" y2="68.82" stroke="#333333" stroke-width="1.3"/>
<line x1="427.00" y1="37.41" x2="432.60" y2="37.41" stroke="#333333" stroke-width="1.3"/>
<line x1="429.60" y1="6.00" x2="432.60" y2="6.00" stroke="#333333" stroke-width="1.3"/>
<line x1="457.67" y1="288.70" x2="457.67" y2="294.50" stroke="#333333" stroke-width="1.3"/>
<line x1="489.02" y1="288.70" x2="489.02" y2="291.70" stroke="#333333" stroke-width="1.3"/>
<line x1="520.36" y1="288.70" x2="520.36" y2="294.50" stroke="#333333" stroke-width="1.3"/>
<line x1="551.70" y1="288.70" x2="551.70" y2="291.70" stroke="#333333" stroke-width="1.3"/>
<line x1="583.04" y1="288.70" x2="583.04" y2="294.50" stroke="#333333" stroke-width="1.3"/>
<line x1="614.39" y1="288.70" x2="614.39" y2="291.70" stroke="#333333" stroke-width="1.3"/>
<line x1="645.73" y1="288.70" x2="645.73" y2="294.50" stroke="#333333" stroke-width="1.3"/>
<line x1="677.07" y1="288.70" x2="677.07" y2="291.70" stroke="#333333" stroke-width="1.3"/>
<line x1="708.41" y1="288.70" x2="708.41" y2="294.50" stroke="#333333" stroke-width="1.3"/>
<line x1="739.76" y1="288.70" x2="739.76" y2="291.70" stroke="#333333" stroke-width="1.3"/>
<line x1="771.10" y1="288.70" x2="771.10" y2="294.50" stroke="#333333" stroke-width="1.3"/>
<text transform="translate(403.89,292.77) scale(1.0600,1)" font-size="12.70" font-weight="bold" stroke="#111" stroke-width="0.2" >0.0</text>
<text transform="translate(403.88,229.95) scale(1.0600,1)" font-size="12.70" font-weight="bold" stroke="#111" stroke-width="0.2" >0.2</text>
<text transform="translate(403.41,167.13) scale(1.0600,1)" font-size="12.70" font-weight="bold" stroke="#111" stroke-width="0.2" >0.4</text>
<text transform="translate(403.82,104.31) scale(1.0600,1)" font-size="12.70" font-weight="bold" stroke="#111" stroke-width="0.2" >0.6</text>
<text transform="translate(403.76,41.48) scale(1.0600,1)" font-size="12.70" font-weight="bold" stroke="#111" stroke-width="0.2" >0.8</text>
<text transform="translate(450.14,309.02) scale(1.0600,1)" font-size="12.70" font-weight="bold" stroke="#111" stroke-width="0.2" >25</text>
<text transform="translate(512.94,309.02) scale(1.0600,1)" font-size="12.70" font-weight="bold" stroke="#111" stroke-width="0.2" >50</text>
<text transform="translate(575.46,309.02) scale(1.0600,1)" font-size="12.70" font-weight="bold" stroke="#111" stroke-width="0.2" >75</text>
<text transform="translate(634.35,309.02) scale(1.0600,1)" font-size="12.70" font-weight="bold" stroke="#111" stroke-width="0.2" >100</text>
<text transform="translate(696.95,309.02) scale(1.0600,1)" font-size="12.70" font-weight="bold" stroke="#111" stroke-width="0.2" >125</text>
<text transform="translate(759.72,309.02) scale(1.0600,1)" font-size="12.70" font-weight="bold" stroke="#111" stroke-width="0.2" >150</text>
<text transform="translate(407.36,20.66) scale(0.9648,1)" font-size="16.29" font-weight="bold" stroke="#111" stroke-width="0.2" >(b)</text>
<g transform="translate(405.6,143.9) rotate(-90)"><text font-size="13.2" font-weight="bold" stroke="#111" stroke-width="0.2" x="0" y="0">tan</text><text transform="translate(22.40,0) scale(1.35,0.9)" font-size="13.2" x="0" y="0" stroke="#111" stroke-width="0.15">δ</text></g>
<text transform="translate(526.80,332.30) scale(1.0047,1)" font-size="13.8" font-weight="bold" stroke="#111" stroke-width="0.2">Temperatura, <tspan font-size="9.66" dy="-7.73" dx="0.28" stroke-width="0.05">o</tspan><tspan dy="7.73">C</tspan></text>
<rect x="670.7" y="10.6" width="94.8" height="127.8" fill="#fff" stroke="#8c8c8c" stroke-width="1"/>
<line x1="675.60" y1="21.00" x2="706.00" y2="21.00" stroke="#000000" stroke-width="1.5"/>
<text transform="translate(709.94,25.42) scale(1.0533,1)" font-size="12.90" font-weight="bold" stroke="#111" stroke-width="0.2" >DMI 100</text>
<line x1="675.60" y1="39.35" x2="706.00" y2="39.35" stroke="#ff0000" stroke-width="1.5"/>
<text transform="translate(709.94,43.77) scale(1.0533,1)" font-size="12.90" font-weight="bold" stroke="#111" stroke-width="0.2" >DMI 90</text>
<line x1="675.60" y1="57.70" x2="706.00" y2="57.70" stroke="#0000ff" stroke-width="1.5"/>
<text transform="translate(709.94,62.12) scale(1.0533,1)" font-size="12.90" font-weight="bold" stroke="#111" stroke-width="0.2" >DMI 80</text>
<line x1="675.60" y1="76.05" x2="706.00" y2="76.05" stroke="#00ff00" stroke-width="1.5"/>
<text transform="translate(709.94,80.47) scale(1.0533,1)" font-size="12.90" font-weight="bold" stroke="#111" stroke-width="0.2" >DMI 65</text>
<line x1="675.60" y1="94.40" x2="706.00" y2="94.40" stroke="#808000" stroke-width="1.5"/>
<text transform="translate(709.94,98.82) scale(1.0533,1)" font-size="12.90" font-weight="bold" stroke="#111" stroke-width="0.2" >DMI 50</text>
<line x1="675.60" y1="112.75" x2="706.00" y2="112.75" stroke="#ff8000" stroke-width="1.5"/>
<text transform="translate(709.94,117.17) scale(1.0533,1)" font-size="12.90" font-weight="bold" stroke="#111" stroke-width="0.2" >DMI 25</text>
<line x1="675.60" y1="131.10" x2="706.00" y2="131.10" stroke="#008080" stroke-width="1.5"/>
<text transform="translate(709.94,135.52) scale(1.0533,1)" font-size="12.90" font-weight="bold" stroke="#111" stroke-width="0.2" >DMI 0</text>
</g>
</svg></body></html>
